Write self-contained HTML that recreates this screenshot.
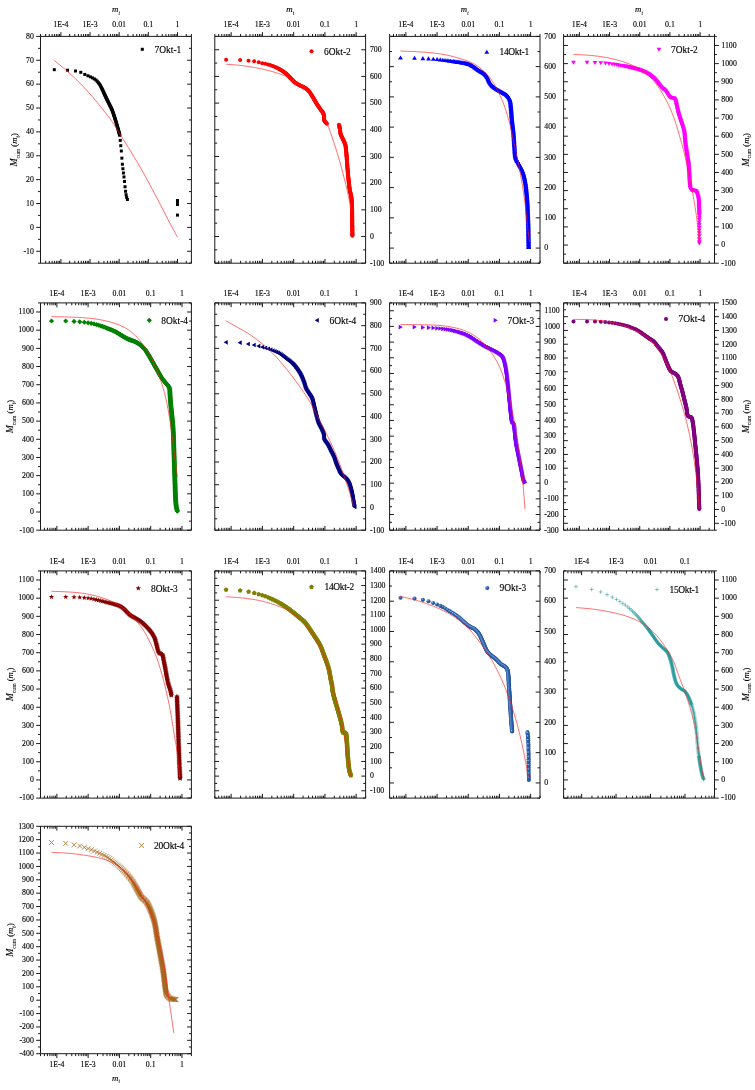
<!DOCTYPE html>
<html><head><meta charset="utf-8"><title>Cumulative mass plots</title>
<style>html,body{margin:0;padding:0;background:#fff}body{width:755px;height:1090px;overflow:hidden}svg{display:block;will-change:transform}text{font-family:"Liberation Serif",serif;fill:#000;stroke:#000;stroke-width:0.13px}.d{fill:none;stroke:none}</style>
</head><body>
<svg width="755" height="1090" viewBox="0 0 755 1090" font-size="7.8">
<rect width="755" height="1090" fill="#fff"/>
<defs>
<radialGradient id="sg" cx="0.36" cy="0.3" r="0.62"><stop offset="0" stop-color="#b4cbea"/><stop offset="0.4" stop-color="#2f63ad"/><stop offset="1" stop-color="#1f4f98"/></radialGradient>
<marker id="m1" markerUnits="userSpaceOnUse" markerWidth="8" markerHeight="8" viewBox="-4 -4 8 8" refX="0" refY="0" overflow="visible"><rect x="-1.5" y="-1.5" width="3" height="3" fill="#000"/></marker>
<marker id="m2" markerUnits="userSpaceOnUse" markerWidth="8" markerHeight="8" viewBox="-4 -4 8 8" refX="0" refY="0" overflow="visible"><circle r="2" fill="#ff0000"/></marker>
<marker id="m3" markerUnits="userSpaceOnUse" markerWidth="8" markerHeight="8" viewBox="-4 -4 8 8" refX="0" refY="0" overflow="visible"><polygon points="0,-2.3 2.4,1.8 -2.4,1.8" fill="#0000ff"/></marker>
<marker id="m4" markerUnits="userSpaceOnUse" markerWidth="8" markerHeight="8" viewBox="-4 -4 8 8" refX="0" refY="0" overflow="visible"><polygon points="0,2.2 2.35,-1.8 -2.35,-1.8" fill="#ff00ff"/></marker>
<marker id="m5" markerUnits="userSpaceOnUse" markerWidth="8" markerHeight="8" viewBox="-4 -4 8 8" refX="0" refY="0" overflow="visible"><polygon points="0,-2.6 2.6,0 0,2.6 -2.6,0" fill="#008000"/></marker>
<marker id="m6" markerUnits="userSpaceOnUse" markerWidth="8" markerHeight="8" viewBox="-4 -4 8 8" refX="0" refY="0" overflow="visible"><polygon points="-2.3,0 1.8,-2.35 1.8,2.35" fill="#000080"/></marker>
<marker id="m7" markerUnits="userSpaceOnUse" markerWidth="8" markerHeight="8" viewBox="-4 -4 8 8" refX="0" refY="0" overflow="visible"><polygon points="2.3,0 -1.8,-2.35 -1.8,2.35" fill="#8000ff"/></marker>
<marker id="m8" markerUnits="userSpaceOnUse" markerWidth="8" markerHeight="8" viewBox="-4 -4 8 8" refX="0" refY="0" overflow="visible"><circle r="2" fill="#800080"/></marker>
<marker id="m9" markerUnits="userSpaceOnUse" markerWidth="8" markerHeight="8" viewBox="-4 -4 8 8" refX="0" refY="0" overflow="visible"><polygon points="0.00,-2.80 0.68,-0.93 2.66,-0.87 1.09,0.36 1.65,2.27 0.00,1.15 -1.65,2.27 -1.09,0.36 -2.66,-0.87 -0.68,-0.93" fill="#800000"/></marker>
<marker id="m10" markerUnits="userSpaceOnUse" markerWidth="8" markerHeight="8" viewBox="-4 -4 8 8" refX="0" refY="0" overflow="visible"><polygon points="0.00,-2.50 2.38,-0.77 1.47,2.02 -1.47,2.02 -2.38,-0.77" fill="#808000"/></marker>
<marker id="m11" markerUnits="userSpaceOnUse" markerWidth="8" markerHeight="8" viewBox="-4 -4 8 8" refX="0" refY="0" overflow="visible"><circle r="2.05" fill="url(#sg)"/></marker>
<marker id="m12" markerUnits="userSpaceOnUse" markerWidth="8" markerHeight="8" viewBox="-4 -4 8 8" refX="0" refY="0" overflow="visible"><path d="M-1.95 0H1.95M0 -1.95V1.95" stroke="#2a9c9c" stroke-width="0.55" fill="none"/></marker>
<marker id="m13" markerUnits="userSpaceOnUse" markerWidth="8" markerHeight="8" viewBox="-4 -4 8 8" refX="0" refY="0" overflow="visible"><path d="M-2.4 -2.4L2.4 2.4M-2.4 2.4L2.4 -2.4" stroke="#a5641a" stroke-width="0.75" fill="none"/></marker>
</defs>
<g>
<polyline class="d" points="84.77,74.44 87.85,75.75 90.41,76.88 92.57,77.94 94.43,78.96 95.96,80.06 97.18,81.23 98.18,82.41 99.04,83.55 99.77,84.63 100.4,85.68 100.94,86.68 101.43,87.63 101.88,88.53 102.3,89.39 102.68,90.2 103.03,90.98 103.36,91.73 103.68,92.44 103.98,93.12 104.27,93.77 104.56,94.41 104.86,95.05 105.16,95.68 105.45,96.31 105.75,96.95 106.05,97.58 106.36,98.21 106.66,98.84 106.96,99.47 107.27,100.1 107.58,100.73 107.89,101.36 108.2,101.98 108.52,102.61 108.84,103.23 109.15,103.86 109.47,104.48 109.78,105.11 110.08,105.74 110.39,106.36 110.7,106.99 111.01,107.62 111.31,108.25 111.61,108.89 111.88,109.53 112.15,110.18 112.4,110.83 112.64,111.49 112.87,112.15 113.1,112.81 113.32,113.47 113.55,114.14 113.77,114.8 113.99,115.47 114.2,116.13 114.42,116.8 114.63,117.47 114.85,118.13 115.06,118.8 115.27,119.47 115.48,120.14 115.68,120.8 115.89,121.47 116.09,122.14 116.3,122.81 116.5,123.48 116.7,124.15 116.9,124.82 117.1,125.5 117.3,126.17 117.49,126.84 117.68,127.51 117.87,128.19 118.06,128.86 118.24,129.54 118.43,130.21 118.61,130.89 118.79,131.56 118.98,132.24 119.16,132.92 119.34,133.59 119.52,134.27 119.69,134.95 119.74,135.1" marker-start="url(#m1)" marker-mid="url(#m1)" marker-end="url(#m1)"/>
<polyline class="d" points="54.3,69.67 67.55,70.2 75.5,70.99 80.79,72.32 120.26,140.4 120.79,145.7 121.32,150.99 121.85,158.15 122.38,164.24 122.91,168.74 123.44,172.98 123.97,176.95 124.5,181.46 125.03,186.75 125.56,191.26 126.09,194.7 126.62,197.35 127.42,199.47 177.48,200.53 177.48,202.65 177.48,204.5 177.48,215.1" marker-start="url(#m1)" marker-mid="url(#m1)" marker-end="url(#m1)"/>
<polyline points="54.3,60.4 55.76,61.61 57.79,63.28 60.18,65.26 62.74,67.4 65.27,69.54 67.55,71.52 69.63,73.37 71.67,75.22 73.68,77.07 75.64,78.92 77.58,80.78 79.47,82.65 81.31,84.52 83.1,86.38 84.85,88.25 86.58,90.13 88.32,92.06 90.07,94.04 91.83,96.07 93.6,98.14 95.36,100.25 97.13,102.39 98.9,104.56 100.66,106.75 102.44,108.98 104.24,111.24 106.04,113.53 107.82,115.84 109.57,118.18 111.26,120.53 112.85,122.86 114.35,125.16 115.81,127.48 117.29,129.88 118.85,132.4 120.53,135.1 122.35,137.97 124.26,140.99 126.24,144.12 128.28,147.37 130.36,150.73 132.45,154.17 134.58,157.73 136.77,161.41 138.99,165.2 141.23,169.07 143.47,172.99 145.7,176.95 147.93,181.03 150.21,185.25 152.48,189.54 154.72,193.79 156.89,197.92 158.94,201.85 160.89,205.61 162.77,209.28 164.57,212.83 166.3,216.24 167.95,219.47 169.54,222.52 171.11,225.47 172.68,228.36 174.17,231.09 175.52,233.53 176.65,235.57 177.48,237.09" fill="none" stroke="#ff2020" stroke-width="0.65"/>
<polyline class="d" points="142.3,49.3 142.3,49.3" marker-start="url(#m1)"/>
<text x="154.5" y="52.7" font-size="9.45">7Okt-1</text>
<text x="33.8" y="253.56" text-anchor="end">-10</text>
<text x="33.8" y="229.69" text-anchor="end">0</text>
<text x="33.8" y="205.82" text-anchor="end">10</text>
<text x="33.8" y="181.94" text-anchor="end">20</text>
<text x="33.8" y="158.07" text-anchor="end">30</text>
<text x="33.8" y="134.19" text-anchor="end">40</text>
<text x="33.8" y="110.32" text-anchor="end">50</text>
<text x="33.8" y="86.45" text-anchor="end">60</text>
<text x="33.8" y="62.57" text-anchor="end">70</text>
<text x="33.8" y="38.7" text-anchor="end">80</text>
<path d="M40.5 36.4H191.4V263.2H40.5ZM40.5 36.4v-2.4M40.5 263.2v-2.4M45.63 36.4v-2.4M45.63 263.2v-2.4M49.28 36.4v-2.4M49.28 263.2v-2.4M52.1 36.4v-2.4M52.1 263.2v-2.4M54.41 36.4v-2.4M54.41 263.2v-2.4M56.36 36.4v-2.4M56.36 263.2v-2.4M58.05 36.4v-2.4M58.05 263.2v-2.4M59.54 36.4v-2.4M59.54 263.2v-2.4M60.88 36.4v-4.3M60.88 263.2v-4.3M69.65 36.4v-2.4M69.65 263.2v-2.4M74.79 36.4v-2.4M74.79 263.2v-2.4M78.43 36.4v-2.4M78.43 263.2v-2.4M81.25 36.4v-2.4M81.25 263.2v-2.4M83.56 36.4v-2.4M83.56 263.2v-2.4M85.51 36.4v-2.4M85.51 263.2v-2.4M87.21 36.4v-2.4M87.21 263.2v-2.4M88.7 36.4v-2.4M88.7 263.2v-2.4M90.03 36.4v-4.3M90.03 263.2v-4.3M98.81 36.4v-2.4M98.81 263.2v-2.4M103.94 36.4v-2.4M103.94 263.2v-2.4M107.58 36.4v-2.4M107.58 263.2v-2.4M110.41 36.4v-2.4M110.41 263.2v-2.4M112.72 36.4v-2.4M112.72 263.2v-2.4M114.67 36.4v-2.4M114.67 263.2v-2.4M116.36 36.4v-2.4M116.36 263.2v-2.4M117.85 36.4v-2.4M117.85 263.2v-2.4M119.18 36.4v-4.3M119.18 263.2v-4.3M127.96 36.4v-2.4M127.96 263.2v-2.4M133.09 36.4v-2.4M133.09 263.2v-2.4M136.74 36.4v-2.4M136.74 263.2v-2.4M139.56 36.4v-2.4M139.56 263.2v-2.4M141.87 36.4v-2.4M141.87 263.2v-2.4M143.82 36.4v-2.4M143.82 263.2v-2.4M145.51 36.4v-2.4M145.51 263.2v-2.4M147 36.4v-2.4M147 263.2v-2.4M148.34 36.4v-4.3M148.34 263.2v-4.3M157.11 36.4v-2.4M157.11 263.2v-2.4M162.25 36.4v-2.4M162.25 263.2v-2.4M165.89 36.4v-2.4M165.89 263.2v-2.4M168.71 36.4v-2.4M168.71 263.2v-2.4M171.02 36.4v-2.4M171.02 263.2v-2.4M172.97 36.4v-2.4M172.97 263.2v-2.4M174.67 36.4v-2.4M174.67 263.2v-2.4M176.16 36.4v-2.4M176.16 263.2v-2.4M177.49 36.4v-4.3M177.49 263.2v-4.3M186.27 36.4v-2.4M186.27 263.2v-2.4M191.4 36.4v-2.4M191.4 263.2v-2.4M40.5 263.2h-2.4M191.4 263.2h-2.4M40.5 251.26h-4.3M191.4 251.26h-4.3M40.5 239.33h-2.4M191.4 239.33h-2.4M40.5 227.39h-4.3M191.4 227.39h-4.3M40.5 215.45h-2.4M191.4 215.45h-2.4M40.5 203.52h-4.3M191.4 203.52h-4.3M40.5 191.58h-2.4M191.4 191.58h-2.4M40.5 179.64h-4.3M191.4 179.64h-4.3M40.5 167.71h-2.4M191.4 167.71h-2.4M40.5 155.77h-4.3M191.4 155.77h-4.3M40.5 143.83h-2.4M191.4 143.83h-2.4M40.5 131.89h-4.3M191.4 131.89h-4.3M40.5 119.96h-2.4M191.4 119.96h-2.4M40.5 108.02h-4.3M191.4 108.02h-4.3M40.5 96.08h-2.4M191.4 96.08h-2.4M40.5 84.15h-4.3M191.4 84.15h-4.3M40.5 72.21h-2.4M191.4 72.21h-2.4M40.5 60.27h-4.3M191.4 60.27h-4.3M40.5 48.34h-2.4M191.4 48.34h-2.4M40.5 36.4h-4.3M191.4 36.4h-4.3" fill="none" stroke="#1a1a1a" stroke-width="1"/>
<text x="60.88" y="26.6" text-anchor="middle">1E-4</text>
<text x="90.03" y="26.6" text-anchor="middle">1E-3</text>
<text x="119.18" y="26.6" text-anchor="middle">0.01</text>
<text x="148.34" y="26.6" text-anchor="middle">0.1</text>
<text x="177.49" y="26.6" text-anchor="middle">1</text>
<text x="115.95" y="11.9" font-size="8.8" font-style="italic" text-anchor="middle">m<tspan font-size="5.4" dy="2.6" style="stroke-width:0.06px">t</tspan></text>
<text transform="translate(16.8 149.8) rotate(-90)" font-size="8.7" text-anchor="middle"><tspan font-style="italic" font-size="9.8">M</tspan><tspan font-size="5.6" dy="2.8" style="stroke-width:0.06px">cum</tspan><tspan dy="-2.8"> (</tspan><tspan font-style="italic">m</tspan><tspan font-size="5.6" dy="2.8" font-style="italic" style="stroke-width:0.06px">t</tspan><tspan dy="-2.8">)</tspan></text>
</g>
<g>
<polyline class="d" points="267.94,64.43 270.04,65.09 271.89,65.7 273.52,66.29 274.97,66.91 276.27,67.52 277.46,68.11 278.54,68.68 279.55,69.22 280.48,69.74 281.36,70.24 282.17,70.72 282.93,71.2 283.63,71.67 284.28,72.15 284.89,72.63 285.45,73.1 285.98,73.57 286.49,74.05 287,74.53 287.5,75.02 288,75.51 288.5,76 288.99,76.5 289.46,77.01 289.93,77.53 290.41,78.05 290.88,78.57 291.36,79.07 291.86,79.57 292.36,80.05 292.87,80.54 293.38,81.02 293.9,81.49 294.43,81.94 294.97,82.39 295.52,82.82 296.09,83.22 296.68,83.61 297.27,83.98 297.87,84.33 298.48,84.68 299.1,85.01 299.72,85.34 300.35,85.64 300.99,85.92 301.64,86.18 302.29,86.44 302.93,86.72 303.55,87.03 304.16,87.38 304.75,87.76 305.34,88.14 305.91,88.54 306.47,88.96 307.02,89.4 307.55,89.86 308.06,90.34 308.54,90.85 308.99,91.38 309.42,91.93 309.84,92.49 310.24,93.07 310.63,93.65 311.01,94.23 311.4,94.82 311.78,95.41 312.14,96 312.5,96.6 312.86,97.21 313.21,97.81 313.56,98.42 313.91,99.02 314.27,99.62 314.63,100.23 314.99,100.83 315.34,101.43 315.7,102.03 316.05,102.64 316.41,103.24 316.77,103.84 317.14,104.43 317.51,105.03 317.89,105.61 318.28,106.2 318.67,106.78 319.06,107.36 319.46,107.93 319.86,108.51 320.26,109.08 320.67,109.65 321.09,110.21 321.54,110.75 321.99,111.29 322.43,111.83 322.83,112.4 323.17,113.01 323.42,113.66 323.61,114.34 323.75,115.03 323.86,115.72 323.96,116.41 324.04,117.1 324.06,117.8 324.08,118.5 324.11,119.2 324.19,119.9 324.36,120.57 324.67,121.2 325.07,121.78 325.51,122.32 325.98,122.83 326.47,123.34 326.9,123.81" marker-start="url(#m2)" marker-mid="url(#m2)" marker-end="url(#m2)"/>
<polyline class="d" points="339.03,124.86 339.17,125.54 339.31,126.23 339.45,126.91 339.59,127.6 339.72,128.29 339.85,128.97 339.96,129.67 340.05,130.36 340.14,131.05 340.23,131.75 340.33,132.44 340.44,133.13 340.59,133.82 340.77,134.49 341.01,135.15 341.28,135.79 341.59,136.42 341.91,137.05 342.22,137.67 342.52,138.31 342.81,138.94 343.12,139.57 343.43,140.2 343.74,140.82 344.05,141.45 344.34,142.09 344.62,142.73 344.88,143.38 345.09,144.05 345.3,144.72 345.45,145.4 345.59,146.09 345.7,146.78 345.8,147.47 345.88,148.17 345.96,148.86 346.03,149.56 346.09,150.25 346.15,150.95 346.21,151.65 346.28,152.35 346.34,153.04 346.4,153.74 346.47,154.44 346.52,155.14 346.58,155.83 346.63,156.53 346.68,157.23 346.72,157.93 346.77,158.63 346.82,159.33 346.87,160.02 346.92,160.72 346.97,161.42 347.02,162.12 347.08,162.82 347.13,163.51 347.18,164.21 347.24,164.91 347.29,165.61 347.34,166.31 347.4,167 347.45,167.7 347.51,168.4 347.57,169.1 347.63,169.79 347.68,170.49 347.75,171.19 347.81,171.89 347.87,172.58 347.93,173.28 348,173.98 348.07,174.67 348.13,175.37 348.2,176.07 348.27,176.76 348.34,177.46 348.41,178.16 348.48,178.85 348.55,179.55 348.63,180.25 348.7,180.94 348.77,181.64 348.85,182.33 348.93,183.03 349,183.73 349.08,184.42 349.16,185.12 349.24,185.81 349.32,186.51 349.4,187.2 349.49,187.9 349.58,188.59 349.67,189.28 349.78,189.98 349.89,190.67 350.03,191.35 350.18,192.04 350.36,192.71 350.56,193.39 350.75,194.06 350.94,194.73 351.09,195.42 351.22,196.1 351.33,196.79 351.42,197.49 351.49,198.19 351.55,198.88 351.61,199.58 351.66,200.28 351.7,200.98 351.74,201.68 351.78,202.38 351.81,203.07 351.85,203.77 351.88,204.47 351.9,205.17 351.93,205.87 351.96,206.57 351.98,207.27 352,207.97 352.03,208.67 352.05,209.37 352.06,210.07 352.08,210.77 352.09,211.47 352.1,212.17 352.11,212.87 352.12,213.57 352.13,214.27 352.14,214.97 352.15,215.67 352.15,216.37 352.16,217.07 352.17,217.77 352.18,218.47 352.19,219.17 352.2,219.87 352.21,220.57 352.22,221.27 352.23,221.97 352.24,222.67 352.25,223.37 352.25,224.07 352.26,224.77 352.27,225.47 352.28,226.17 352.29,226.87 352.3,227.57 352.31,228.27 352.32,228.97 352.33,229.67 352.34,230.37 352.35,231.07 352.36,231.77 352.37,232.47 352.37,233.17 352.38,233.87 352.39,234.57 352.4,235.27 352.41,235.67" marker-start="url(#m2)" marker-mid="url(#m2)" marker-end="url(#m2)"/>
<polyline class="d" points="226.13,59.63 240.13,60.04 248.5,60.67 254.14,61.3 258.74,62.34 262.3,63.18 265.22,63.81" marker-start="url(#m2)" marker-mid="url(#m2)" marker-end="url(#m2)"/>
<polyline points="226.13,64.22 227.77,64.35 230.04,64.51 232.74,64.71 235.64,64.94 238.52,65.2 241.18,65.48 243.67,65.8 246.17,66.15 248.65,66.54 251.11,66.94 253.5,67.36 255.81,67.78 258.05,68.2 260.23,68.64 262.35,69.09 264.41,69.54 266.41,70.02 268.36,70.5 270.25,70.99 272.08,71.5 273.85,72.03 275.56,72.56 277.22,73.09 278.81,73.63 280.33,74.15 281.76,74.66 283.13,75.16 284.47,75.7 285.81,76.3 287.18,76.98 288.57,77.76 289.96,78.62 291.36,79.54 292.75,80.49 294.14,81.46 295.54,82.41 296.93,83.32 298.33,84.2 299.72,85.09 301.11,86.04 302.51,87.08 303.9,88.27 305.3,89.59 306.69,91.03 308.08,92.55 309.48,94.18 310.87,95.89 312.26,97.68 313.67,99.55 315.09,101.51 316.51,103.56 317.92,105.69 319.29,107.91 320.63,110.22 321.96,112.74 323.3,115.49 324.61,118.32 325.85,121.1 326.98,123.68 327.95,125.9 328.7,127.67 329.26,129.08 329.71,130.28 330.11,131.44 330.55,132.71 331.08,134.26 331.72,136.1 332.4,138.1 333.11,140.21 333.83,142.4 334.55,144.61 335.26,146.81 335.96,148.99 336.66,151.18 337.35,153.41 338.05,155.68 338.75,158 339.44,160.4 340.15,162.93 340.88,165.59 341.6,168.3 342.31,171.01 342.99,173.62 343.63,176.08 344.21,178.35 344.76,180.49 345.29,182.55 345.79,184.56 346.28,186.57 346.76,188.62 347.25,190.74 347.72,192.88 348.19,195.03 348.64,197.14 349.07,199.2 349.48,201.17 349.89,203.15 350.3,205.19 350.7,207.18 351.05,208.99 351.35,210.51 351.57,211.62" fill="none" stroke="#ff2020" stroke-width="0.65"/>
<polyline class="d" points="311.5,51.3 311.5,51.3" marker-start="url(#m2)"/>
<text x="324" y="54.7" font-size="9.45">6Okt-2</text>
<text x="369.9" y="265.5">-100</text>
<text x="369.9" y="238.82">0</text>
<text x="369.9" y="212.14">100</text>
<text x="369.9" y="185.45">200</text>
<text x="369.9" y="158.77">300</text>
<text x="369.9" y="132.09">400</text>
<text x="369.9" y="105.41">500</text>
<text x="369.9" y="78.72">600</text>
<text x="369.9" y="52.04">700</text>
<path d="M214.8 36.4H365.6V263.2H214.8ZM214.8 36.4v-2.4M214.8 263.2v-2.4M218.71 36.4v-2.4M218.71 263.2v-2.4M221.74 36.4v-2.4M221.74 263.2v-2.4M224.21 36.4v-2.4M224.21 263.2v-2.4M226.3 36.4v-2.4M226.3 263.2v-2.4M228.12 36.4v-2.4M228.12 263.2v-2.4M229.72 36.4v-2.4M229.72 263.2v-2.4M231.15 36.4v-4.3M231.15 263.2v-4.3M240.56 36.4v-2.4M240.56 263.2v-2.4M246.06 36.4v-2.4M246.06 263.2v-2.4M249.97 36.4v-2.4M249.97 263.2v-2.4M253 36.4v-2.4M253 263.2v-2.4M255.47 36.4v-2.4M255.47 263.2v-2.4M257.56 36.4v-2.4M257.56 263.2v-2.4M259.38 36.4v-2.4M259.38 263.2v-2.4M260.98 36.4v-2.4M260.98 263.2v-2.4M262.41 36.4v-4.3M262.41 263.2v-4.3M271.82 36.4v-2.4M271.82 263.2v-2.4M277.32 36.4v-2.4M277.32 263.2v-2.4M281.23 36.4v-2.4M281.23 263.2v-2.4M284.26 36.4v-2.4M284.26 263.2v-2.4M286.73 36.4v-2.4M286.73 263.2v-2.4M288.83 36.4v-2.4M288.83 263.2v-2.4M290.64 36.4v-2.4M290.64 263.2v-2.4M292.24 36.4v-2.4M292.24 263.2v-2.4M293.67 36.4v-4.3M293.67 263.2v-4.3M303.08 36.4v-2.4M303.08 263.2v-2.4M308.58 36.4v-2.4M308.58 263.2v-2.4M312.49 36.4v-2.4M312.49 263.2v-2.4M315.52 36.4v-2.4M315.52 263.2v-2.4M317.99 36.4v-2.4M317.99 263.2v-2.4M320.09 36.4v-2.4M320.09 263.2v-2.4M321.9 36.4v-2.4M321.9 263.2v-2.4M323.5 36.4v-2.4M323.5 263.2v-2.4M324.93 36.4v-4.3M324.93 263.2v-4.3M334.34 36.4v-2.4M334.34 263.2v-2.4M339.84 36.4v-2.4M339.84 263.2v-2.4M343.75 36.4v-2.4M343.75 263.2v-2.4M346.78 36.4v-2.4M346.78 263.2v-2.4M349.25 36.4v-2.4M349.25 263.2v-2.4M351.35 36.4v-2.4M351.35 263.2v-2.4M353.16 36.4v-2.4M353.16 263.2v-2.4M354.76 36.4v-2.4M354.76 263.2v-2.4M356.19 36.4v-4.3M356.19 263.2v-4.3M365.6 36.4v-2.4M365.6 263.2v-2.4M214.8 263.2h4.3M365.6 263.2h-4.3M214.8 249.86h2.4M365.6 249.86h-2.4M214.8 236.52h4.3M365.6 236.52h-4.3M214.8 223.18h2.4M365.6 223.18h-2.4M214.8 209.84h4.3M365.6 209.84h-4.3M214.8 196.49h2.4M365.6 196.49h-2.4M214.8 183.15h4.3M365.6 183.15h-4.3M214.8 169.81h2.4M365.6 169.81h-2.4M214.8 156.47h4.3M365.6 156.47h-4.3M214.8 143.13h2.4M365.6 143.13h-2.4M214.8 129.79h4.3M365.6 129.79h-4.3M214.8 116.45h2.4M365.6 116.45h-2.4M214.8 103.11h4.3M365.6 103.11h-4.3M214.8 89.76h2.4M365.6 89.76h-2.4M214.8 76.42h4.3M365.6 76.42h-4.3M214.8 63.08h2.4M365.6 63.08h-2.4M214.8 49.74h4.3M365.6 49.74h-4.3M214.8 36.4h2.4M365.6 36.4h-2.4" fill="none" stroke="#1a1a1a" stroke-width="1"/>
<text x="231.15" y="26.6" text-anchor="middle">1E-4</text>
<text x="262.41" y="26.6" text-anchor="middle">1E-3</text>
<text x="293.67" y="26.6" text-anchor="middle">0.01</text>
<text x="324.93" y="26.6" text-anchor="middle">0.1</text>
<text x="356.19" y="26.6" text-anchor="middle">1</text>
<text x="290.2" y="11.9" font-size="8.8" font-style="italic" text-anchor="middle">m<tspan font-size="5.4" dy="2.6" style="stroke-width:0.06px">t</tspan></text>
</g>
<g>
<polyline class="d" points="440.22,59.63 442.82,59.97 445.08,60.27 447.07,60.53 448.85,60.77 450.46,60.99 451.94,61.19 453.29,61.37 454.55,61.54 455.72,61.7 456.82,61.85 457.84,62 458.81,62.14 459.73,62.29 460.6,62.43 461.42,62.56 462.21,62.69 462.96,62.82 463.68,62.94 464.37,63.06 465.06,63.19 465.74,63.33 466.43,63.48 467.11,63.64 467.78,63.82 468.46,64.02 469.11,64.26 469.76,64.51 470.4,64.8 471.02,65.12 471.63,65.47 472.23,65.83 472.83,66.2 473.42,66.57 474.01,66.95 474.59,67.34 475.16,67.75 475.72,68.16 476.28,68.58 476.84,69.01 477.4,69.43 477.96,69.84 478.54,70.24 479.12,70.63 479.71,71 480.32,71.34 480.94,71.68 481.55,72.01 482.16,72.35 482.77,72.71 483.36,73.07 483.93,73.49 484.47,73.93 484.98,74.41 485.46,74.92 485.91,75.45 486.34,76.01 486.74,76.58 487.12,77.17 487.47,77.77 487.79,78.4 488.06,79.04 488.32,79.69 488.57,80.35 488.85,80.99 489.16,81.62 489.5,82.23 489.86,82.83 490.23,83.42 490.63,84 491.05,84.56 491.49,85.1 491.95,85.63 492.44,86.13 492.96,86.59 493.5,87.04 494.05,87.47 494.62,87.88 495.19,88.28 495.77,88.68 496.36,89.06 496.94,89.44 497.53,89.82 498.13,90.19 498.73,90.55 499.34,90.89 499.95,91.23 500.57,91.56 501.19,91.89 501.8,92.22 502.41,92.56 503.02,92.91 503.63,93.26 504.24,93.6 504.84,93.95 505.45,94.31 506.03,94.69 506.59,95.11 507.11,95.58 507.6,96.08 508.07,96.6 508.5,97.15 508.89,97.73 509.24,98.34 509.54,98.97 509.79,99.62 509.99,100.29 510.16,100.97 510.29,101.66 510.4,102.35 510.49,103.04 510.56,103.74 510.63,104.44 510.7,105.13 510.77,105.83 510.83,106.53 510.9,107.22 510.97,107.92 511.04,108.62 511.1,109.31 511.15,110.01 511.21,110.71 511.26,111.41 511.32,112.11 511.37,112.8 511.42,113.5 511.48,114.2 511.53,114.9 511.58,115.6 511.64,116.29 511.7,116.99 511.76,117.69 511.82,118.39 511.88,119.08 511.95,119.78 512.03,120.47 512.1,121.17 512.18,121.87 512.27,122.56 512.35,123.26 512.44,123.95 512.52,124.65 512.61,125.34 512.7,126.03 512.79,126.73 512.87,127.42 512.96,128.12 513.04,128.81 513.12,129.51 513.2,130.2 513.27,130.9 513.34,131.6 513.41,132.29 513.47,132.99 513.53,133.69 513.58,134.39 513.64,135.08 513.69,135.78 513.74,136.48 513.79,137.18 513.83,137.88 513.88,138.58 513.92,139.27 513.97,139.97 514.02,140.67 514.06,141.37 514.11,142.07 514.15,142.77 514.2,143.47 514.25,144.16 514.3,144.86 514.35,145.56 514.4,146.26 514.46,146.96 514.51,147.65 514.56,148.35 514.61,149.05 514.65,149.75 514.7,150.45 514.74,151.15 514.79,151.84 514.84,152.54 514.9,153.24 514.96,153.94 515.04,154.63 515.13,155.33 515.24,156.02 515.38,156.7 515.53,157.39 515.73,158.06 515.96,158.72 516.24,159.36 516.56,159.98 516.9,160.59 517.27,161.19 517.63,161.79 518,162.38 518.33,163 518.67,163.61 518.99,164.23 519.32,164.85 519.66,165.46 520,166.08 520.33,166.69 520.67,167.3 521,167.92 521.32,168.54 521.64,169.17 521.93,169.8 522.23,170.44 522.49,171.09 522.74,171.74 522.97,172.4 523.19,173.07 523.4,173.73 523.59,174.41 523.77,175.08 523.94,175.76 524.11,176.44 524.27,177.12 524.42,177.81 524.57,178.49 524.71,179.18 524.85,179.86 524.98,180.55 525.11,181.24 525.24,181.93 525.36,182.62 525.47,183.31 525.59,184 525.68,184.69 525.78,185.38 525.87,186.08 525.95,186.77 526.03,187.47 526.11,188.16 526.18,188.86 526.25,189.56 526.32,190.25 526.39,190.95 526.46,191.65 526.53,192.34 526.59,193.04 526.66,193.74 526.73,194.43 526.79,195.13 526.85,195.83 526.92,196.52 526.97,197.22 527.03,197.92 527.09,198.62 527.14,199.32 527.19,200.01 527.24,200.71 527.29,201.41 527.33,202.11 527.38,202.81 527.42,203.51 527.46,204.21 527.5,204.9 527.53,205.6 527.56,206.3 527.59,207 527.61,207.7 527.64,208.4 527.66,209.1 527.69,209.8 527.71,210.5 527.73,211.2 527.76,211.9 527.78,212.6 527.81,213.3 527.84,214 527.87,214.7 527.89,215.4 527.92,216.1 527.95,216.8 527.98,217.49 528.02,218.19 528.05,218.89 528.07,219.59 528.1,220.29 528.13,220.99 528.16,221.69 528.18,222.39 528.21,223.09 528.23,223.79 528.25,224.49 528.27,225.19 528.29,225.89 528.31,226.59 528.32,227.29 528.34,227.99 528.35,228.69 528.36,229.39 528.37,230.09 528.39,230.79 528.4,231.49 528.41,232.19 528.42,232.89 528.43,233.59 528.45,234.29 528.46,234.99 528.47,235.69 528.48,236.39 528.5,237.09 528.51,237.79 528.52,238.49 528.53,239.19 528.54,239.89 528.55,240.59 528.57,241.29 528.58,241.99 528.59,242.69 528.6,243.39 528.61,244.09 528.62,244.79 528.63,245.49 528.65,246.19 528.66,246.89 528.66,247.16" marker-start="url(#m3)" marker-mid="url(#m3)" marker-end="url(#m3)"/>
<polyline class="d" points="400.5,57.74 414.51,57.95 422.87,58.37 428.51,58.58 433.32,59 437.09,59.21" marker-start="url(#m3)" marker-mid="url(#m3)" marker-end="url(#m3)"/>
<polyline points="400.5,51.05 402.22,51.12 404.6,51.2 407.42,51.3 410.45,51.42 413.45,51.54 416.18,51.68 418.68,51.82 421.14,51.96 423.56,52.11 425.98,52.28 428.39,52.49 430.81,52.73 433.25,52.99 435.69,53.28 438.13,53.6 440.57,53.96 443.01,54.36 445.45,54.82 447.91,55.34 450.41,55.92 452.9,56.54 455.36,57.2 457.77,57.88 460.09,58.58 462.32,59.27 464.5,59.95 466.62,60.66 468.68,61.41 470.68,62.25 472.63,63.18 474.52,64.22 476.35,65.34 478.12,66.54 479.83,67.8 481.49,69.13 483.08,70.5 484.62,71.93 486.1,73.42 487.53,74.98 488.89,76.58 490.2,78.23 491.45,79.91 492.61,81.59 493.69,83.3 494.71,85.04 495.71,86.85 496.7,88.75 497.72,90.78 498.78,92.92 499.85,95.18 500.92,97.52 501.98,99.95 503.01,102.44 503.99,104.99 504.93,107.61 505.85,110.31 506.73,113.07 507.59,115.9 508.42,118.78 509.22,121.72 509.97,124.74 510.69,127.84 511.37,131 512.04,134.19 512.71,137.38 513.4,140.54 514.1,143.67 514.82,146.81 515.53,149.95 516.23,153.08 516.92,156.22 517.58,159.35 518.22,162.51 518.84,165.7 519.45,168.89 520.04,172.05 520.6,175.16 521.13,178.17 521.64,181.08 522.13,183.9 522.59,186.66 523.02,189.4 523.45,192.13 523.85,194.9 524.24,197.66 524.6,200.39 524.94,203.13 525.27,205.89 525.6,208.71 525.94,211.62 526.3,214.72 526.66,218.01 527.03,221.36 527.38,224.63 527.72,227.7 528.03,230.44 528.33,232.91 528.62,235.24 528.9,237.36 529.14,239.23 529.35,240.77 529.5,241.94" fill="none" stroke="#ff2020" stroke-width="0.65"/>
<polyline class="d" points="486.8,52 486.8,52" marker-start="url(#m3)"/>
<text x="499.5" y="55.4" font-size="9.45" textLength="29.7">14Okt-1</text>
<text x="544.3" y="250.38">0</text>
<text x="544.3" y="220.14">100</text>
<text x="544.3" y="189.9">200</text>
<text x="544.3" y="159.66">300</text>
<text x="544.3" y="129.42">400</text>
<text x="544.3" y="99.18">500</text>
<text x="544.3" y="68.94">600</text>
<text x="544.3" y="38.7">700</text>
<path d="M389.6 36.4H540V263.2H389.6ZM389.6 36.4v-2.4M389.6 263.2v-2.4M393.5 36.4v-2.4M393.5 263.2v-2.4M396.52 36.4v-2.4M396.52 263.2v-2.4M398.99 36.4v-2.4M398.99 263.2v-2.4M401.07 36.4v-2.4M401.07 263.2v-2.4M402.88 36.4v-2.4M402.88 263.2v-2.4M404.48 36.4v-2.4M404.48 263.2v-2.4M405.9 36.4v-4.3M405.9 263.2v-4.3M415.29 36.4v-2.4M415.29 263.2v-2.4M420.78 36.4v-2.4M420.78 263.2v-2.4M424.67 36.4v-2.4M424.67 263.2v-2.4M427.69 36.4v-2.4M427.69 263.2v-2.4M430.16 36.4v-2.4M430.16 263.2v-2.4M432.25 36.4v-2.4M432.25 263.2v-2.4M434.06 36.4v-2.4M434.06 263.2v-2.4M435.65 36.4v-2.4M435.65 263.2v-2.4M437.08 36.4v-4.3M437.08 263.2v-4.3M446.47 36.4v-2.4M446.47 263.2v-2.4M451.96 36.4v-2.4M451.96 263.2v-2.4M455.85 36.4v-2.4M455.85 263.2v-2.4M458.87 36.4v-2.4M458.87 263.2v-2.4M461.34 36.4v-2.4M461.34 263.2v-2.4M463.43 36.4v-2.4M463.43 263.2v-2.4M465.24 36.4v-2.4M465.24 263.2v-2.4M466.83 36.4v-2.4M466.83 263.2v-2.4M468.26 36.4v-4.3M468.26 263.2v-4.3M477.64 36.4v-2.4M477.64 263.2v-2.4M483.13 36.4v-2.4M483.13 263.2v-2.4M487.03 36.4v-2.4M487.03 263.2v-2.4M490.05 36.4v-2.4M490.05 263.2v-2.4M492.52 36.4v-2.4M492.52 263.2v-2.4M494.61 36.4v-2.4M494.61 263.2v-2.4M496.41 36.4v-2.4M496.41 263.2v-2.4M498.01 36.4v-2.4M498.01 263.2v-2.4M499.44 36.4v-4.3M499.44 263.2v-4.3M508.82 36.4v-2.4M508.82 263.2v-2.4M514.31 36.4v-2.4M514.31 263.2v-2.4M518.21 36.4v-2.4M518.21 263.2v-2.4M521.23 36.4v-2.4M521.23 263.2v-2.4M523.7 36.4v-2.4M523.7 263.2v-2.4M525.78 36.4v-2.4M525.78 263.2v-2.4M527.59 36.4v-2.4M527.59 263.2v-2.4M529.19 36.4v-2.4M529.19 263.2v-2.4M530.61 36.4v-4.3M530.61 263.2v-4.3M540 36.4v-2.4M540 263.2v-2.4M389.6 263.2h2.4M540 263.2h-2.4M389.6 248.08h4.3M540 248.08h-4.3M389.6 232.96h2.4M540 232.96h-2.4M389.6 217.84h4.3M540 217.84h-4.3M389.6 202.72h2.4M540 202.72h-2.4M389.6 187.6h4.3M540 187.6h-4.3M389.6 172.48h2.4M540 172.48h-2.4M389.6 157.36h4.3M540 157.36h-4.3M389.6 142.24h2.4M540 142.24h-2.4M389.6 127.12h4.3M540 127.12h-4.3M389.6 112h2.4M540 112h-2.4M389.6 96.88h4.3M540 96.88h-4.3M389.6 81.76h2.4M540 81.76h-2.4M389.6 66.64h4.3M540 66.64h-4.3M389.6 51.52h2.4M540 51.52h-2.4M389.6 36.4h4.3M540 36.4h-4.3" fill="none" stroke="#1a1a1a" stroke-width="1"/>
<text x="405.9" y="26.6" text-anchor="middle">1E-4</text>
<text x="437.08" y="26.6" text-anchor="middle">1E-3</text>
<text x="468.26" y="26.6" text-anchor="middle">0.01</text>
<text x="499.44" y="26.6" text-anchor="middle">0.1</text>
<text x="530.61" y="26.6" text-anchor="middle">1</text>
<text x="464.8" y="11.9" font-size="8.8" font-style="italic" text-anchor="middle">m<tspan font-size="5.4" dy="2.6" style="stroke-width:0.06px">t</tspan></text>
</g>
<g>
<polyline class="d" points="612.13,64.22 614.57,64.59 616.69,64.9 618.55,65.19 620.21,65.46 621.71,65.72 623.08,65.96 624.33,66.2 625.5,66.41 626.58,66.62 627.59,66.82 628.53,67.01 629.43,67.2 630.27,67.38 631.06,67.56 631.82,67.74 632.54,67.91 633.23,68.08 633.91,68.26 634.59,68.43 635.26,68.61 635.94,68.79 636.61,68.98 637.29,69.17 637.96,69.37 638.63,69.57 639.3,69.78 639.96,69.99 640.62,70.22 641.28,70.46 641.94,70.71 642.59,70.97 643.23,71.25 643.87,71.54 644.49,71.85 645.12,72.17 645.73,72.5 646.34,72.85 646.95,73.2 647.55,73.56 648.14,73.92 648.74,74.29 649.32,74.67 649.9,75.07 650.48,75.47 651.04,75.88 651.6,76.31 652.14,76.75 652.67,77.2 653.19,77.67 653.7,78.15 654.19,78.66 654.67,79.17 655.13,79.69 655.59,80.22 656.04,80.76 656.49,81.29 656.94,81.83 657.39,82.37 657.83,82.91 658.26,83.46 658.68,84.02 659.1,84.58 659.53,85.13 659.96,85.69 660.4,86.23 660.86,86.76 661.32,87.28 661.82,87.77 662.34,88.24 662.87,88.7 663.41,89.14 663.95,89.59 664.49,90.04 665.01,90.51 665.49,91.01 665.96,91.53 666.37,92.1 666.75,92.69 667.11,93.29 667.45,93.9 667.79,94.51 668.14,95.12 668.52,95.71 668.92,96.28 669.39,96.8 669.93,97.23 670.54,97.56 671.22,97.75 671.91,97.88 672.6,98 673.28,98.14 673.93,98.4 674.49,98.81 674.95,99.32 675.29,99.94 675.54,100.59 675.76,101.25 675.92,101.93 676.07,102.62 676.2,103.3 676.33,103.99 676.45,104.68 676.58,105.37 676.72,106.06 676.87,106.74 677.03,107.42 677.2,108.1 677.36,108.78 677.53,109.46 677.69,110.14 677.85,110.82 678.02,111.5 678.18,112.18 678.35,112.86 678.52,113.54 678.7,114.22 678.88,114.89 679.07,115.57 679.27,116.24 679.48,116.91 679.69,117.57 679.91,118.24 680.13,118.91 680.35,119.57 680.57,120.23 680.8,120.9 681.02,121.56 681.24,122.22 681.46,122.89 681.67,123.56 681.89,124.22 682.1,124.89 682.33,125.55 682.55,126.21 682.78,126.87 683,127.54 683.22,128.2 683.43,128.87 683.63,129.54 683.81,130.22 683.98,130.9 684.13,131.58 684.28,132.27 684.39,132.96 684.49,133.65 684.58,134.34 684.65,135.04 684.72,135.74 684.78,136.43 684.84,137.13 684.89,137.83 684.94,138.53 685,139.23 685.05,139.92 685.11,140.62 685.17,141.32 685.25,142.01 685.32,142.71 685.41,143.4 685.49,144.1 685.58,144.79 685.67,145.49 685.77,146.18 685.86,146.87 685.96,147.57 686.06,148.26 686.16,148.95 686.26,149.65 686.36,150.34 686.47,151.03 686.57,151.72 686.67,152.42 686.78,153.11 686.89,153.8 687,154.49 687.11,155.18 687.23,155.87 687.34,156.56 687.46,157.25 687.58,157.94 687.7,158.63 687.82,159.32 687.93,160.01 688.04,160.7 688.15,161.39 688.25,162.09 688.34,162.78 688.44,163.47 688.51,164.17 688.59,164.87 688.66,165.56 688.72,166.26 688.79,166.96 688.84,167.65 688.9,168.35 688.95,169.05 689,169.75 689.04,170.45 689.09,171.15 689.14,171.84 689.18,172.54 689.23,173.24 689.28,173.94 689.32,174.64 689.36,175.34 689.41,176.04 689.44,176.73 689.48,177.43 689.51,178.13 689.55,178.83 689.58,179.53 689.62,180.23 689.65,180.93 689.69,181.63 689.74,182.33 689.78,183.03 689.84,183.72 689.91,184.42 689.97,185.12 690.02,185.82 690.07,186.51 690.13,187.21 690.22,187.9 690.38,188.58 690.65,189.22 691.09,189.76 691.68,190.12 692.36,190.31 693.05,190.4 693.75,190.48 694.44,190.59 695.11,190.76 695.72,191.11 696.19,191.63 696.56,192.22 696.86,192.85 697.11,193.5 697.33,194.17 697.53,194.84 697.72,195.51 697.92,196.18 698.12,196.85 698.3,197.53 698.45,198.21 698.58,198.9 698.7,199.59 698.8,200.28 698.88,200.98 698.94,201.68 698.99,202.37 699.01,203.07 699.04,203.77 699.05,204.47 699.06,205.17 699.07,205.87 699.07,206.57 699.08,207.27 699.1,207.97 699.11,208.67 699.13,209.37 699.15,210.07 699.18,210.77 699.2,211.47 699.22,212.17 699.24,212.87 699.26,213.57 699.28,214.27 699.3,214.97 699.32,215.39" marker-start="url(#m4)" marker-mid="url(#m4)" marker-end="url(#m4)"/>
<polyline class="d" points="573.45,62.55 587.04,62.55 594.99,62.76 600.84,62.97 605.44,63.39 609,63.81 699.32,217.48 699.32,219.78 699.32,222.28 699.32,224.79 699.32,227.51 699.32,230.23 699.32,233.16 699.32,236.08 699.32,239.01 699.32,241.52 699.32,243.4" marker-start="url(#m4)" marker-mid="url(#m4)" marker-end="url(#m4)"/>
<polyline points="573.45,54.4 575.05,54.48 577.25,54.58 579.86,54.71 582.67,54.86 585.48,55.04 588.09,55.23 590.53,55.45 592.97,55.68 595.41,55.93 597.85,56.21 600.28,56.53 602.72,56.91 605.19,57.33 607.68,57.81 610.17,58.32 612.64,58.87 615.04,59.44 617.36,60.04 619.6,60.67 621.77,61.32 623.89,62 625.95,62.71 627.96,63.46 629.9,64.22 631.77,65 633.54,65.77 635.26,66.58 636.95,67.44 638.64,68.39 640.36,69.45 642.12,70.64 643.92,71.93 645.71,73.31 647.48,74.76 649.19,76.26 650.81,77.81 652.33,79.39 653.75,80.99 655.12,82.65 656.46,84.4 657.8,86.26 659.17,88.27 660.59,90.47 662.04,92.84 663.49,95.32 664.9,97.87 666.26,100.42 667.54,102.9 668.72,105.32 669.82,107.7 670.87,110.09 671.87,112.51 672.85,114.98 673.81,117.54 674.74,120.18 675.63,122.88 676.49,125.64 677.33,128.46 678.18,131.33 679.04,134.26 679.92,137.28 680.82,140.38 681.71,143.54 682.6,146.73 683.45,149.92 684.26,153.08 685.03,156.22 685.75,159.35 686.45,162.49 687.12,165.63 687.78,168.76 688.44,171.9 689.11,175.06 689.76,178.25 690.4,181.44 691.03,184.6 691.63,187.7 692.21,190.71 692.75,193.62 693.27,196.44 693.76,199.21 694.24,201.94 694.69,204.68 695.13,207.44 695.56,210.2 695.96,212.94 696.35,215.67 696.72,218.44 697.08,221.26 697.43,224.17 697.79,227.4 698.16,230.98 698.52,234.62 698.84,238.03 699.12,240.91 699.32,242.98" fill="none" stroke="#ff2020" stroke-width="0.65"/>
<polyline class="d" points="659,49.5 659,49.5" marker-start="url(#m4)"/>
<text x="671" y="52.9" font-size="9.45">7Okt-2</text>
<text x="721.3" y="265.5">-100</text>
<text x="721.3" y="247.36">0</text>
<text x="721.3" y="229.21">100</text>
<text x="721.3" y="211.07">200</text>
<text x="721.3" y="192.92">300</text>
<text x="721.3" y="174.78">400</text>
<text x="721.3" y="156.64">500</text>
<text x="721.3" y="138.49">600</text>
<text x="721.3" y="120.35">700</text>
<text x="721.3" y="102.2">800</text>
<text x="721.3" y="84.06">900</text>
<text x="721.3" y="65.92">1000</text>
<text x="721.3" y="47.77">1100</text>
<path d="M563.6 36.4H714.5V263.2H563.6ZM563.6 36.4v-2.4M563.6 263.2v-2.4M567.37 36.4v-2.4M567.37 263.2v-2.4M570.3 36.4v-2.4M570.3 263.2v-2.4M572.69 36.4v-2.4M572.69 263.2v-2.4M574.71 36.4v-2.4M574.71 263.2v-2.4M576.46 36.4v-2.4M576.46 263.2v-2.4M578 36.4v-2.4M578 263.2v-2.4M579.38 36.4v-4.3M579.38 263.2v-4.3M588.47 36.4v-2.4M588.47 263.2v-2.4M593.78 36.4v-2.4M593.78 263.2v-2.4M597.55 36.4v-2.4M597.55 263.2v-2.4M600.48 36.4v-2.4M600.48 263.2v-2.4M602.87 36.4v-2.4M602.87 263.2v-2.4M604.89 36.4v-2.4M604.89 263.2v-2.4M606.64 36.4v-2.4M606.64 263.2v-2.4M608.18 36.4v-2.4M608.18 263.2v-2.4M609.56 36.4v-4.3M609.56 263.2v-4.3M618.65 36.4v-2.4M618.65 263.2v-2.4M623.96 36.4v-2.4M623.96 263.2v-2.4M627.73 36.4v-2.4M627.73 263.2v-2.4M630.66 36.4v-2.4M630.66 263.2v-2.4M633.05 36.4v-2.4M633.05 263.2v-2.4M635.07 36.4v-2.4M635.07 263.2v-2.4M636.82 36.4v-2.4M636.82 263.2v-2.4M638.36 36.4v-2.4M638.36 263.2v-2.4M639.74 36.4v-4.3M639.74 263.2v-4.3M648.83 36.4v-2.4M648.83 263.2v-2.4M654.14 36.4v-2.4M654.14 263.2v-2.4M657.91 36.4v-2.4M657.91 263.2v-2.4M660.84 36.4v-2.4M660.84 263.2v-2.4M663.23 36.4v-2.4M663.23 263.2v-2.4M665.25 36.4v-2.4M665.25 263.2v-2.4M667 36.4v-2.4M667 263.2v-2.4M668.54 36.4v-2.4M668.54 263.2v-2.4M669.92 36.4v-4.3M669.92 263.2v-4.3M679.01 36.4v-2.4M679.01 263.2v-2.4M684.32 36.4v-2.4M684.32 263.2v-2.4M688.09 36.4v-2.4M688.09 263.2v-2.4M691.02 36.4v-2.4M691.02 263.2v-2.4M693.41 36.4v-2.4M693.41 263.2v-2.4M695.43 36.4v-2.4M695.43 263.2v-2.4M697.18 36.4v-2.4M697.18 263.2v-2.4M698.72 36.4v-2.4M698.72 263.2v-2.4M700.1 36.4v-4.3M700.1 263.2v-4.3M709.19 36.4v-2.4M709.19 263.2v-2.4M714.5 36.4v-2.4M714.5 263.2v-2.4M563.6 263.2h4.3M714.5 263.2h4.3M563.6 254.13h2.4M714.5 254.13h2.4M563.6 245.06h4.3M714.5 245.06h4.3M563.6 235.98h2.4M714.5 235.98h2.4M563.6 226.91h4.3M714.5 226.91h4.3M563.6 217.84h2.4M714.5 217.84h2.4M563.6 208.77h4.3M714.5 208.77h4.3M563.6 199.7h2.4M714.5 199.7h2.4M563.6 190.62h4.3M714.5 190.62h4.3M563.6 181.55h2.4M714.5 181.55h2.4M563.6 172.48h4.3M714.5 172.48h4.3M563.6 163.41h2.4M714.5 163.41h2.4M563.6 154.34h4.3M714.5 154.34h4.3M563.6 145.26h2.4M714.5 145.26h2.4M563.6 136.19h4.3M714.5 136.19h4.3M563.6 127.12h2.4M714.5 127.12h2.4M563.6 118.05h4.3M714.5 118.05h4.3M563.6 108.98h2.4M714.5 108.98h2.4M563.6 99.9h4.3M714.5 99.9h4.3M563.6 90.83h2.4M714.5 90.83h2.4M563.6 81.76h4.3M714.5 81.76h4.3M563.6 72.69h2.4M714.5 72.69h2.4M563.6 63.62h4.3M714.5 63.62h4.3M563.6 54.54h2.4M714.5 54.54h2.4M563.6 45.47h4.3M714.5 45.47h4.3M563.6 36.4h2.4M714.5 36.4h2.4" fill="none" stroke="#1a1a1a" stroke-width="1"/>
<text x="579.38" y="26.6" text-anchor="middle">1E-4</text>
<text x="609.56" y="26.6" text-anchor="middle">1E-3</text>
<text x="639.74" y="26.6" text-anchor="middle">0.01</text>
<text x="669.92" y="26.6" text-anchor="middle">0.1</text>
<text x="700.1" y="26.6" text-anchor="middle">1</text>
<text x="639.05" y="11.9" font-size="8.8" font-style="italic" text-anchor="middle">m<tspan font-size="5.4" dy="2.6" style="stroke-width:0.06px">t</tspan></text>
<text transform="translate(748.5 149.8) rotate(-90)" font-size="8.7" text-anchor="middle"><tspan font-style="italic" font-size="9.8">M</tspan><tspan font-size="5.6" dy="2.8" style="stroke-width:0.06px">cum</tspan><tspan dy="-2.8"> (</tspan><tspan font-style="italic">m</tspan><tspan font-size="5.6" dy="2.8" font-style="italic" style="stroke-width:0.06px">t</tspan><tspan dy="-2.8">)</tspan></text>
</g>
<g>
<polyline class="d" points="91.22,323.28 93.97,323.95 96.4,324.56 98.57,325.17 100.51,325.79 102.28,326.39 103.9,326.97 105.4,327.52 106.79,328.05 108.09,328.55 109.31,329.03 110.45,329.5 111.53,329.95 112.55,330.38 113.52,330.82 114.43,331.24 115.3,331.66 116.12,332.09 116.89,332.53 117.62,332.96 118.32,333.39 118.99,333.81 119.63,334.23 120.25,334.62 120.86,335 121.46,335.36 122.06,335.72 122.66,336.07 123.26,336.43 123.86,336.79 124.46,337.15 125.07,337.5 125.68,337.85 126.29,338.19 126.91,338.51 127.54,338.82 128.17,339.11 128.82,339.39 129.47,339.63 130.14,339.86 130.8,340.08 131.47,340.3 132.13,340.52 132.79,340.75 133.44,341 134.09,341.26 134.73,341.56 135.36,341.86 135.99,342.16 136.61,342.49 137.22,342.83 137.82,343.19 138.41,343.56 138.99,343.96 139.55,344.37 140.11,344.8 140.65,345.24 141.19,345.69 141.72,346.15 142.24,346.62 142.75,347.1 143.24,347.59 143.73,348.09 144.2,348.62 144.66,349.14 145.09,349.69 145.51,350.25 145.92,350.82 146.31,351.4 146.7,351.98 147.07,352.58 147.44,353.17 147.8,353.77 148.17,354.37 148.53,354.96 148.9,355.56 149.26,356.16 149.61,356.77 149.96,357.37 150.31,357.98 150.65,358.59 151,359.2 151.34,359.81 151.68,360.42 152.02,361.03 152.37,361.64 152.71,362.25 153.06,362.86 153.4,363.47 153.75,364.07 154.1,364.68 154.45,365.29 154.79,365.9 155.14,366.51 155.49,367.11 155.83,367.72 156.18,368.33 156.53,368.94 156.88,369.54 157.22,370.15 157.57,370.76 157.91,371.37 158.25,371.98 158.59,372.6 158.93,373.21 159.27,373.82 159.62,374.43 159.96,375.04 160.31,375.64 160.67,376.25 161.03,376.84 161.4,377.44 161.79,378.02 162.19,378.59 162.61,379.16 163.03,379.71 163.47,380.26 163.91,380.8 164.35,381.35 164.8,381.88 165.26,382.42 165.72,382.94 166.18,383.46 166.65,383.99 167.1,384.52 167.55,385.06 167.98,385.61 168.39,386.18 168.8,386.75 169.16,387.35 169.43,387.99 169.61,388.67 169.73,389.36 169.81,390.05 169.86,390.75 169.9,391.45 169.92,392.15 169.94,392.85 169.97,393.55 170,394.25 170.04,394.94 170.09,395.64 170.14,396.34 170.19,397.04 170.24,397.74 170.28,398.44 170.33,399.13 170.39,399.83 170.44,400.53 170.49,401.23 170.55,401.93 170.61,402.62 170.67,403.32 170.73,404.02 170.8,404.72 170.86,405.41 170.93,406.11 171,406.81 171.07,407.5 171.14,408.2 171.21,408.89 171.28,409.59 171.36,410.29 171.43,410.98 171.5,411.68 171.57,412.38 171.64,413.07 171.71,413.77 171.78,414.47 171.86,415.16 171.93,415.86 172,416.55 172.08,417.25 172.15,417.95 172.22,418.64 172.3,419.34 172.37,420.03 172.44,420.73 172.51,421.43 172.57,422.12 172.64,422.82 172.7,423.52 172.76,424.22 172.81,424.91 172.86,425.61 172.92,426.31 172.96,427.01 173.01,427.71 173.06,428.41 173.1,429.1 173.14,429.8 173.18,430.5 173.22,431.2 173.25,431.9 173.29,432.6 173.32,433.3 173.36,434 173.39,434.7 173.42,435.4 173.45,436.1 173.47,436.8 173.5,437.49 173.52,438.19 173.55,438.89 173.57,439.59 173.59,440.29 173.62,440.99 173.64,441.69 173.66,442.39 173.68,443.09 173.7,443.79 173.72,444.49 173.74,445.19 173.76,445.89 173.79,446.59 173.81,447.29 173.83,447.99 173.85,448.69 173.88,449.39 173.9,450.09 173.92,450.79 173.95,451.49 173.97,452.19 173.99,452.89 174.02,453.59 174.04,454.29 174.06,454.99 174.09,455.69 174.11,456.38 174.13,457.08 174.16,457.78 174.18,458.48 174.2,459.18 174.23,459.88 174.25,460.58 174.27,461.28 174.3,461.98 174.32,462.68 174.34,463.38 174.37,464.08 174.39,464.78 174.41,465.48 174.44,466.18 174.46,466.88 174.48,467.58 174.51,468.28 174.53,468.98 174.55,469.68 174.58,470.38 174.6,471.08 174.62,471.78 174.65,472.48 174.67,473.18 174.69,473.88 174.72,474.57 174.74,475.27 174.76,475.97 174.79,476.67 174.81,477.37 174.83,478.07 174.86,478.77 174.88,479.47 174.9,480.17 174.93,480.87 174.95,481.57 174.97,482.27 175,482.97 175.02,483.67 175.04,484.37 175.07,485.07 175.09,485.77 175.11,486.47 175.13,487.17 175.15,487.87 175.17,488.57 175.19,489.27 175.21,489.97 175.23,490.67 175.24,491.37 175.27,492.07 175.29,492.77 175.31,493.47 175.33,494.17 175.36,494.86 175.39,495.56 175.42,496.26 175.46,496.96 175.49,497.66 175.54,498.36 175.58,499.06 175.63,499.76 175.68,500.46 175.73,501.15 175.79,501.85 175.85,502.55 175.91,503.25 175.98,503.94 176.05,504.64 176.13,505.33 176.21,506.03 176.3,506.72 176.41,507.41 176.54,508.1 176.69,508.79 176.87,509.46 177.08,510.13 177.29,510.8 177.36,511.03" marker-start="url(#m5)" marker-mid="url(#m5)" marker-end="url(#m5)"/>
<polyline class="d" points="51.5,320.98 65.72,320.98 74.08,321.4 79.72,321.82 84.32,322.23 88.09,322.86" marker-start="url(#m5)" marker-mid="url(#m5)" marker-end="url(#m5)"/>
<polyline points="51.5,316.59 53.22,316.63 55.6,316.69 58.42,316.76 61.45,316.84 64.45,316.92 67.18,317.01 69.68,317.09 72.14,317.17 74.56,317.26 76.98,317.36 79.39,317.48 81.81,317.64 84.25,317.81 86.69,318 89.13,318.21 91.57,318.46 94.01,318.75 96.45,319.1 98.91,319.51 101.41,319.96 103.9,320.46 106.36,321 108.77,321.6 111.09,322.23 113.32,322.91 115.5,323.62 117.62,324.38 119.68,325.19 121.68,326.08 123.63,327.04 125.52,328.09 127.35,329.22 129.12,330.41 130.83,331.67 132.49,332.99 134.08,334.36 135.62,335.81 137.1,337.34 138.53,338.93 139.89,340.56 141.2,342.18 142.45,343.77 143.62,345.33 144.73,346.87 145.78,348.41 146.78,349.96 147.76,351.55 148.72,353.18 149.65,354.84 150.54,356.51 151.4,358.21 152.24,359.95 153.09,361.76 153.95,363.63 154.83,365.6 155.73,367.66 156.62,369.77 157.51,371.92 158.36,374.06 159.17,376.18 159.94,378.27 160.68,380.36 161.39,382.45 162.08,384.54 162.73,386.63 163.35,388.72 163.94,390.79 164.49,392.82 165.01,394.86 165.51,396.93 166,399.05 166.49,401.26 166.97,403.56 167.43,405.91 167.89,408.32 168.33,410.79 168.77,413.32 169.21,415.9 169.64,418.57 170.07,421.32 170.5,424.13 170.92,426.97 171.32,429.81 171.72,432.63 172.09,435.41 172.44,438.2 172.79,440.99 173.13,443.78 173.46,446.56 173.81,449.35 174.16,452.21 174.53,455.16 174.89,458.11 175.25,460.97 175.59,463.65 175.9,466.08 176.2,468.3 176.49,470.41 176.76,472.35 177.01,474.05 177.21,475.47 177.36,476.53" fill="none" stroke="#ff2020" stroke-width="0.65"/>
<polyline class="d" points="149.3,320.3 149.3,320.3" marker-start="url(#m5)"/>
<text x="161.3" y="323.7" font-size="9.45">8Okt-4</text>
<text x="33.8" y="532.5" text-anchor="end">-100</text>
<text x="33.8" y="514.32" text-anchor="end">0</text>
<text x="33.8" y="496.13" text-anchor="end">100</text>
<text x="33.8" y="477.95" text-anchor="end">200</text>
<text x="33.8" y="459.76" text-anchor="end">300</text>
<text x="33.8" y="441.58" text-anchor="end">400</text>
<text x="33.8" y="423.4" text-anchor="end">500</text>
<text x="33.8" y="405.21" text-anchor="end">600</text>
<text x="33.8" y="387.03" text-anchor="end">700</text>
<text x="33.8" y="368.84" text-anchor="end">800</text>
<text x="33.8" y="350.66" text-anchor="end">900</text>
<text x="33.8" y="332.48" text-anchor="end">1000</text>
<text x="33.8" y="314.29" text-anchor="end">1100</text>
<path d="M40.5 302.9H191.4V530.2H40.5ZM40.5 302.9v2.4M40.5 530.2v-2.4M44.41 302.9v2.4M44.41 530.2v-2.4M47.44 302.9v2.4M47.44 530.2v-2.4M49.92 302.9v2.4M49.92 530.2v-2.4M52.01 302.9v2.4M52.01 530.2v-2.4M53.83 302.9v2.4M53.83 530.2v-2.4M55.43 302.9v2.4M55.43 530.2v-2.4M56.86 302.9v4.3M56.86 530.2v-4.3M66.27 302.9v2.4M66.27 530.2v-2.4M71.78 302.9v2.4M71.78 530.2v-2.4M75.69 302.9v2.4M75.69 530.2v-2.4M78.72 302.9v2.4M78.72 530.2v-2.4M81.2 302.9v2.4M81.2 530.2v-2.4M83.29 302.9v2.4M83.29 530.2v-2.4M85.11 302.9v2.4M85.11 530.2v-2.4M86.71 302.9v2.4M86.71 530.2v-2.4M88.14 302.9v4.3M88.14 530.2v-4.3M97.55 302.9v2.4M97.55 530.2v-2.4M103.06 302.9v2.4M103.06 530.2v-2.4M106.97 302.9v2.4M106.97 530.2v-2.4M110 302.9v2.4M110 530.2v-2.4M112.48 302.9v2.4M112.48 530.2v-2.4M114.57 302.9v2.4M114.57 530.2v-2.4M116.39 302.9v2.4M116.39 530.2v-2.4M117.99 302.9v2.4M117.99 530.2v-2.4M119.42 302.9v4.3M119.42 530.2v-4.3M128.84 302.9v2.4M128.84 530.2v-2.4M134.35 302.9v2.4M134.35 530.2v-2.4M138.25 302.9v2.4M138.25 530.2v-2.4M141.28 302.9v2.4M141.28 530.2v-2.4M143.76 302.9v2.4M143.76 530.2v-2.4M145.86 302.9v2.4M145.86 530.2v-2.4M147.67 302.9v2.4M147.67 530.2v-2.4M149.27 302.9v2.4M149.27 530.2v-2.4M150.7 302.9v4.3M150.7 530.2v-4.3M160.12 302.9v2.4M160.12 530.2v-2.4M165.63 302.9v2.4M165.63 530.2v-2.4M169.54 302.9v2.4M169.54 530.2v-2.4M172.57 302.9v2.4M172.57 530.2v-2.4M175.04 302.9v2.4M175.04 530.2v-2.4M177.14 302.9v2.4M177.14 530.2v-2.4M178.95 302.9v2.4M178.95 530.2v-2.4M180.55 302.9v2.4M180.55 530.2v-2.4M181.98 302.9v4.3M181.98 530.2v-4.3M191.4 302.9v2.4M191.4 530.2v-2.4M40.5 530.2h-4.3M191.4 530.2h-4.3M40.5 521.11h-2.4M191.4 521.11h-2.4M40.5 512.02h-4.3M191.4 512.02h-4.3M40.5 502.92h-2.4M191.4 502.92h-2.4M40.5 493.83h-4.3M191.4 493.83h-4.3M40.5 484.74h-2.4M191.4 484.74h-2.4M40.5 475.65h-4.3M191.4 475.65h-4.3M40.5 466.56h-2.4M191.4 466.56h-2.4M40.5 457.46h-4.3M191.4 457.46h-4.3M40.5 448.37h-2.4M191.4 448.37h-2.4M40.5 439.28h-4.3M191.4 439.28h-4.3M40.5 430.19h-2.4M191.4 430.19h-2.4M40.5 421.1h-4.3M191.4 421.1h-4.3M40.5 412h-2.4M191.4 412h-2.4M40.5 402.91h-4.3M191.4 402.91h-4.3M40.5 393.82h-2.4M191.4 393.82h-2.4M40.5 384.73h-4.3M191.4 384.73h-4.3M40.5 375.64h-2.4M191.4 375.64h-2.4M40.5 366.54h-4.3M191.4 366.54h-4.3M40.5 357.45h-2.4M191.4 357.45h-2.4M40.5 348.36h-4.3M191.4 348.36h-4.3M40.5 339.27h-2.4M191.4 339.27h-2.4M40.5 330.18h-4.3M191.4 330.18h-4.3M40.5 321.08h-2.4M191.4 321.08h-2.4M40.5 311.99h-4.3M191.4 311.99h-4.3M40.5 302.9h-2.4M191.4 302.9h-2.4" fill="none" stroke="#1a1a1a" stroke-width="1"/>
<text x="56.86" y="295.7" text-anchor="middle">1E-4</text>
<text x="88.14" y="295.7" text-anchor="middle">1E-3</text>
<text x="119.42" y="295.7" text-anchor="middle">0.01</text>
<text x="150.7" y="295.7" text-anchor="middle">0.1</text>
<text x="181.98" y="295.7" text-anchor="middle">1</text>
<text transform="translate(13 416.55) rotate(-90)" font-size="8.7" text-anchor="middle"><tspan font-style="italic" font-size="9.8">M</tspan><tspan font-size="5.6" dy="2.8" style="stroke-width:0.06px">cum</tspan><tspan dy="-2.8"> (</tspan><tspan font-style="italic">m</tspan><tspan font-size="5.6" dy="2.8" font-style="italic" style="stroke-width:0.06px">t</tspan><tspan dy="-2.8">)</tspan></text>
</g>
<g>
<polyline class="d" points="265.43,347.95 268.19,348.86 270.62,349.71 272.79,350.54 274.74,351.3 276.52,352.04 278.11,352.81 279.54,353.62 280.82,354.47 281.97,355.33 283.03,356.16 284.03,356.95 284.98,357.7 285.89,358.39 286.77,359.05 287.6,359.68 288.39,360.28 289.14,360.86 289.86,361.43 290.54,361.99 291.19,362.53 291.8,363.08 292.38,363.61 292.92,364.15 293.43,364.68 293.91,365.2 294.38,365.72 294.83,366.26 295.28,366.8 295.72,367.35 296.15,367.9 296.57,368.46 296.99,369.02 297.4,369.58 297.8,370.15 298.21,370.73 298.6,371.31 298.98,371.89 299.35,372.49 299.72,373.08 300.07,373.69 300.41,374.3 300.75,374.91 301.07,375.54 301.38,376.16 301.68,376.79 301.97,377.43 302.25,378.07 302.52,378.72 302.78,379.37 303.03,380.02 303.28,380.68 303.53,381.33 303.77,381.99 304.01,382.65 304.25,383.3 304.48,383.96 304.7,384.63 304.89,385.3 305.07,385.98 305.26,386.65 305.46,387.32 305.69,387.98 305.96,388.63 306.26,389.26 306.59,389.88 306.94,390.48 307.31,391.08 307.69,391.67 308.06,392.26 308.44,392.85 308.82,393.44 309.19,394.04 309.56,394.62 309.96,395.2 310.36,395.78 310.75,396.35 311.13,396.94 311.49,397.55 311.82,398.16 312.1,398.8 312.36,399.45 312.58,400.12 312.78,400.79 312.97,401.46 313.14,402.14 313.3,402.82 313.45,403.51 313.6,404.19 313.75,404.87 313.9,405.56 314.05,406.24 314.21,406.92 314.37,407.6 314.54,408.28 314.71,408.96 314.88,409.64 315.04,410.32 315.21,411 315.38,411.68 315.54,412.36 315.71,413.04 315.88,413.72 316.05,414.4 316.23,415.07 316.41,415.75 316.58,416.43 316.76,417.11 316.93,417.79 317.11,418.46 317.28,419.14 317.46,419.82 317.65,420.49 317.85,421.16 318.05,421.83 318.28,422.49 318.51,423.15 318.78,423.8 319.06,424.44 319.37,425.07 319.69,425.7 320.01,426.31 320.35,426.93 320.68,427.54 321.01,428.16 321.33,428.79 321.64,429.41 321.93,430.05 322.22,430.69 322.51,431.32 322.79,431.97 323.05,432.61 323.3,433.27 323.53,433.93 323.73,434.6 323.87,435.29 323.94,435.98 323.98,436.68 323.99,437.38 324.01,438.08 324.09,438.77 324.25,439.46 324.48,440.12 324.79,440.74 325.17,441.33 325.57,441.9 325.99,442.46 326.42,443.01 326.85,443.57 327.26,444.13 327.65,444.71 328.02,445.31 328.36,445.92 328.69,446.54 329.01,447.16 329.32,447.79 329.62,448.42 329.93,449.05 330.23,449.68 330.53,450.31 330.84,450.94 331.15,451.57 331.47,452.19 331.79,452.81 332.11,453.43 332.44,454.05 332.76,454.67 333.08,455.3 333.39,455.92 333.7,456.55 333.99,457.19 334.26,457.83 334.51,458.49 334.75,459.15 334.97,459.81 335.18,460.48 335.38,461.15 335.58,461.82 335.79,462.49 336.01,463.15 336.25,463.81 336.5,464.47 336.76,465.12 337.03,465.76 337.3,466.41 337.58,467.05 337.86,467.69 338.15,468.33 338.43,468.97 338.73,469.6 339.02,470.24 339.3,470.88 339.56,471.53 339.83,472.18 340.11,472.82 340.44,473.43 340.81,474.02 341.24,474.58 341.71,475.09 342.23,475.57 342.75,476.03 343.29,476.48 343.83,476.93 344.37,477.37 344.9,477.83 345.4,478.31 345.89,478.81 346.37,479.33 346.83,479.85 347.28,480.39 347.71,480.94 348.11,481.52 348.48,482.11 348.81,482.73 349.1,483.36 349.37,484.01 349.62,484.66 349.84,485.33 350.06,485.99 350.26,486.66 350.45,487.34 350.64,488.01 350.83,488.68 351.02,489.36 351.21,490.03 351.38,490.71 351.55,491.39 351.71,492.07 351.86,492.75 352.01,493.44 352.16,494.12 352.3,494.81 352.43,495.5 352.56,496.18 352.69,496.87 352.81,497.56 352.93,498.25 353.04,498.94 353.15,499.63 353.27,500.32 353.38,501.02 353.49,501.71 353.61,502.4 353.74,503.08 353.87,503.77 354,504.46 354.14,505.14 354.29,505.83 354.43,506.52 354.5,506.85" marker-start="url(#m6)" marker-mid="url(#m6)" marker-end="url(#m6)"/>
<polyline class="d" points="225.92,342.31 239.93,342.72 248.08,343.98 253.93,345.02 258.53,346.07 262.3,347.11" marker-start="url(#m6)" marker-mid="url(#m6)" marker-end="url(#m6)"/>
<polyline points="225.92,320.77 227.11,321.44 228.74,322.36 230.67,323.45 232.79,324.64 234.94,325.87 237,327.04 239,328.18 241.07,329.33 243.18,330.51 245.31,331.73 247.43,333.01 249.54,334.36 251.63,335.78 253.72,337.26 255.81,338.8 257.91,340.4 260,342.06 262.09,343.77 264.18,345.53 266.27,347.33 268.36,349.19 270.45,351.13 272.54,353.15 274.63,355.27 276.72,357.5 278.81,359.84 280.9,362.26 282.99,364.75 285.09,367.31 287.18,369.9 289.29,372.58 291.43,375.36 293.58,378.2 295.69,381.05 297.75,383.88 299.72,386.63 301.61,389.3 303.44,391.93 305.21,394.54 306.92,397.12 308.58,399.71 310.17,402.31 311.69,404.91 313.12,407.5 314.49,410.08 315.83,412.69 317.17,415.32 318.54,417.99 319.94,420.73 321.36,423.53 322.78,426.35 324.19,429.18 325.57,431.98 326.9,434.72 328.19,437.39 329.46,440.02 330.69,442.62 331.89,445.21 333.07,447.8 334.22,450.4 335.34,453.02 336.42,455.66 337.48,458.3 338.52,460.93 339.52,463.52 340.49,466.08 341.43,468.6 342.35,471.11 343.23,473.59 344.09,476.03 344.92,478.41 345.72,480.71 346.48,482.92 347.2,485.05 347.9,487.12 348.57,489.15 349.24,491.19 349.9,493.26 350.59,495.49 351.32,497.9 352.04,500.31 352.7,502.55 353.26,504.44 353.66,505.8" fill="none" stroke="#ff2020" stroke-width="0.65"/>
<polyline class="d" points="317,320.3 317,320.3" marker-start="url(#m6)"/>
<text x="329.5" y="323.7" font-size="9.45">6Okt-4</text>
<text x="369.9" y="532.5">-100</text>
<text x="369.9" y="509.77">0</text>
<text x="369.9" y="487.04">100</text>
<text x="369.9" y="464.31">200</text>
<text x="369.9" y="441.58">300</text>
<text x="369.9" y="418.85">400</text>
<text x="369.9" y="396.12">500</text>
<text x="369.9" y="373.39">600</text>
<text x="369.9" y="350.66">700</text>
<text x="369.9" y="327.93">800</text>
<text x="369.9" y="305.2">900</text>
<path d="M214.8 302.9H365.6V530.2H214.8ZM214.8 302.9v2.4M214.8 530.2v-2.4M218.71 302.9v2.4M218.71 530.2v-2.4M221.74 302.9v2.4M221.74 530.2v-2.4M224.21 302.9v2.4M224.21 530.2v-2.4M226.3 302.9v2.4M226.3 530.2v-2.4M228.12 302.9v2.4M228.12 530.2v-2.4M229.72 302.9v2.4M229.72 530.2v-2.4M231.15 302.9v4.3M231.15 530.2v-4.3M240.56 302.9v2.4M240.56 530.2v-2.4M246.06 302.9v2.4M246.06 530.2v-2.4M249.97 302.9v2.4M249.97 530.2v-2.4M253 302.9v2.4M253 530.2v-2.4M255.47 302.9v2.4M255.47 530.2v-2.4M257.56 302.9v2.4M257.56 530.2v-2.4M259.38 302.9v2.4M259.38 530.2v-2.4M260.98 302.9v2.4M260.98 530.2v-2.4M262.41 302.9v4.3M262.41 530.2v-4.3M271.82 302.9v2.4M271.82 530.2v-2.4M277.32 302.9v2.4M277.32 530.2v-2.4M281.23 302.9v2.4M281.23 530.2v-2.4M284.26 302.9v2.4M284.26 530.2v-2.4M286.73 302.9v2.4M286.73 530.2v-2.4M288.83 302.9v2.4M288.83 530.2v-2.4M290.64 302.9v2.4M290.64 530.2v-2.4M292.24 302.9v2.4M292.24 530.2v-2.4M293.67 302.9v4.3M293.67 530.2v-4.3M303.08 302.9v2.4M303.08 530.2v-2.4M308.58 302.9v2.4M308.58 530.2v-2.4M312.49 302.9v2.4M312.49 530.2v-2.4M315.52 302.9v2.4M315.52 530.2v-2.4M317.99 302.9v2.4M317.99 530.2v-2.4M320.09 302.9v2.4M320.09 530.2v-2.4M321.9 302.9v2.4M321.9 530.2v-2.4M323.5 302.9v2.4M323.5 530.2v-2.4M324.93 302.9v4.3M324.93 530.2v-4.3M334.34 302.9v2.4M334.34 530.2v-2.4M339.84 302.9v2.4M339.84 530.2v-2.4M343.75 302.9v2.4M343.75 530.2v-2.4M346.78 302.9v2.4M346.78 530.2v-2.4M349.25 302.9v2.4M349.25 530.2v-2.4M351.35 302.9v2.4M351.35 530.2v-2.4M353.16 302.9v2.4M353.16 530.2v-2.4M354.76 302.9v2.4M354.76 530.2v-2.4M356.19 302.9v4.3M356.19 530.2v-4.3M365.6 302.9v2.4M365.6 530.2v-2.4M214.8 530.2h4.3M365.6 530.2h-4.3M214.8 518.84h2.4M365.6 518.84h-2.4M214.8 507.47h4.3M365.6 507.47h-4.3M214.8 496.11h2.4M365.6 496.11h-2.4M214.8 484.74h4.3M365.6 484.74h-4.3M214.8 473.38h2.4M365.6 473.38h-2.4M214.8 462.01h4.3M365.6 462.01h-4.3M214.8 450.65h2.4M365.6 450.65h-2.4M214.8 439.28h4.3M365.6 439.28h-4.3M214.8 427.92h2.4M365.6 427.92h-2.4M214.8 416.55h4.3M365.6 416.55h-4.3M214.8 405.19h2.4M365.6 405.19h-2.4M214.8 393.82h4.3M365.6 393.82h-4.3M214.8 382.45h2.4M365.6 382.45h-2.4M214.8 371.09h4.3M365.6 371.09h-4.3M214.8 359.73h2.4M365.6 359.73h-2.4M214.8 348.36h4.3M365.6 348.36h-4.3M214.8 337h2.4M365.6 337h-2.4M214.8 325.63h4.3M365.6 325.63h-4.3M214.8 314.26h2.4M365.6 314.26h-2.4M214.8 302.9h4.3M365.6 302.9h-4.3" fill="none" stroke="#1a1a1a" stroke-width="1"/>
<text x="231.15" y="295.7" text-anchor="middle">1E-4</text>
<text x="262.41" y="295.7" text-anchor="middle">1E-3</text>
<text x="293.67" y="295.7" text-anchor="middle">0.01</text>
<text x="324.93" y="295.7" text-anchor="middle">0.1</text>
<text x="356.19" y="295.7" text-anchor="middle">1</text>
</g>
<g>
<polyline class="d" points="440.22,328.51 443,328.83 445.45,329.13 447.64,329.43 449.62,329.76 451.42,330.12 453.07,330.47 454.59,330.82 456.01,331.17 457.33,331.5 458.57,331.83 459.73,332.17 460.83,332.5 461.86,332.82 462.85,333.13 463.78,333.45 464.67,333.77 465.51,334.1 466.31,334.43 467.07,334.75 467.8,335.1 468.49,335.43 469.15,335.78 469.78,336.12 470.38,336.48 470.98,336.84 471.58,337.21 472.17,337.59 472.75,337.97 473.34,338.36 473.92,338.75 474.5,339.13 475.09,339.52 475.67,339.9 476.26,340.28 476.85,340.66 477.44,341.03 478.03,341.41 478.62,341.79 479.21,342.16 479.8,342.54 480.39,342.92 480.98,343.3 481.57,343.68 482.16,344.05 482.75,344.42 483.35,344.79 483.95,345.15 484.55,345.5 485.16,345.85 485.78,346.18 486.39,346.52 487.01,346.84 487.64,347.15 488.27,347.46 488.9,347.77 489.53,348.07 490.16,348.38 490.79,348.68 491.42,348.98 492.05,349.29 492.67,349.6 493.3,349.92 493.92,350.24 494.54,350.57 495.16,350.89 495.78,351.22 496.4,351.55 497.01,351.88 497.62,352.22 498.23,352.57 498.83,352.94 499.41,353.32 499.98,353.73 500.55,354.14 501.09,354.58 501.61,355.05 502.08,355.57 502.48,356.14 502.83,356.75 503.14,357.37 503.43,358.01 503.67,358.67 503.89,359.33 504.1,360 504.29,360.67 504.47,361.35 504.65,362.03 504.81,362.71 504.98,363.39 505.13,364.07 505.29,364.75 505.42,365.44 505.56,366.13 505.68,366.82 505.81,367.51 505.92,368.2 506.03,368.89 506.14,369.58 506.25,370.27 506.35,370.96 506.45,371.66 506.55,372.35 506.64,373.04 506.74,373.74 506.83,374.43 506.92,375.12 507,375.82 507.08,376.51 507.17,377.21 507.25,377.91 507.33,378.6 507.4,379.3 507.48,379.99 507.56,380.69 507.64,381.38 507.71,382.08 507.79,382.78 507.86,383.47 507.94,384.17 508.01,384.86 508.08,385.56 508.15,386.26 508.22,386.95 508.29,387.65 508.35,388.35 508.42,389.04 508.49,389.74 508.56,390.44 508.62,391.13 508.69,391.83 508.76,392.53 508.83,393.22 508.9,393.92 508.97,394.62 509.04,395.31 509.11,396.01 509.18,396.71 509.25,397.4 509.32,398.1 509.39,398.8 509.46,399.49 509.53,400.19 509.6,400.89 509.67,401.58 509.74,402.28 509.81,402.97 509.88,403.67 509.94,404.37 510.01,405.06 510.08,405.76 510.15,406.46 510.21,407.15 510.28,407.85 510.35,408.55 510.41,409.25 510.48,409.94 510.55,410.64 510.62,411.33 510.69,412.03 510.77,412.73 510.85,413.42 510.92,414.12 511,414.81 511.08,415.51 511.15,416.21 511.23,416.9 511.31,417.6 511.4,418.29 511.49,418.99 511.61,419.68 511.74,420.36 511.91,421.04 512.18,421.69 512.58,422.26 513.1,422.72 513.56,423.24 513.88,423.86 514.08,424.53 514.21,425.22 514.3,425.91 514.38,426.61 514.44,427.3 514.5,428 514.55,428.7 514.59,429.4 514.64,430.1 514.69,430.79 514.76,431.49 514.82,432.19 514.89,432.88 514.97,433.58 515.04,434.28 515.11,434.97 515.19,435.67 515.26,436.36 515.34,437.06 515.42,437.76 515.5,438.45 515.58,439.15 515.66,439.84 515.75,440.54 515.84,441.23 515.95,441.92 516.05,442.61 516.16,443.31 516.27,444 516.39,444.69 516.52,445.37 516.66,446.06 516.79,446.75 516.93,447.43 517.07,448.12 517.22,448.8 517.36,449.49 517.51,450.17 517.65,450.86 517.8,451.54 517.94,452.23 518.08,452.91 518.22,453.6 518.36,454.29 518.5,454.97 518.63,455.66 518.77,456.35 518.91,457.03 519.04,457.72 519.18,458.41 519.32,459.09 519.46,459.78 519.59,460.46 519.73,461.15 519.87,461.84 520.01,462.52 520.14,463.21 520.28,463.9 520.42,464.58 520.55,465.27 520.69,465.96 520.83,466.64 520.97,467.33 521.1,468.01 521.24,468.7 521.38,469.39 521.52,470.07 521.65,470.76 521.79,471.45 521.93,472.13 522.06,472.82 522.19,473.51 522.32,474.2 522.44,474.89 522.56,475.58 522.69,476.26 522.83,476.95 522.97,477.63 523.14,478.31 523.35,478.98 523.58,479.64 523.85,480.29 524.15,480.92 524.47,481.54 524.79,482.17 524.9,482.39" marker-start="url(#m7)" marker-mid="url(#m7)" marker-end="url(#m7)"/>
<polyline class="d" points="400.5,327.04 414.51,327.04 422.87,327.46 428.72,327.67 433.32,327.88 437.09,328.3" marker-start="url(#m7)" marker-mid="url(#m7)" marker-end="url(#m7)"/>
<polyline points="400.5,324.53 402.65,324.55 405.61,324.57 409.12,324.59 412.93,324.62 416.76,324.67 420.36,324.74 423.83,324.82 427.41,324.9 431.01,324.99 434.57,325.12 438.01,325.31 441.27,325.58 444.35,325.93 447.31,326.33 450.15,326.8 452.88,327.31 455.5,327.89 457.99,328.51 460.35,329.17 462.56,329.88 464.66,330.64 466.67,331.46 468.62,332.35 470.54,333.32 472.43,334.37 474.26,335.49 476.03,336.69 477.74,337.95 479.4,339.26 480.99,340.63 482.53,342.08 484.01,343.61 485.44,345.21 486.8,346.83 488.11,348.45 489.36,350.04 490.53,351.6 491.64,353.14 492.69,354.68 493.69,356.24 494.67,357.82 495.63,359.45 496.57,361.11 497.49,362.78 498.37,364.48 499.23,366.23 500.06,368.03 500.85,369.9 501.62,371.87 502.35,373.93 503.05,376.05 503.73,378.19 504.39,380.33 505.04,382.45 505.67,384.51 506.27,386.55 506.87,388.59 507.44,390.66 508.02,392.78 508.59,394.99 509.16,397.31 509.74,399.72 510.3,402.18 510.86,404.67 511.4,407.16 511.94,409.63 512.45,412.04 512.95,414.43 513.44,416.81 513.92,419.23 514.39,421.7 514.86,424.26 515.33,426.93 515.8,429.68 516.26,432.5 516.71,435.34 517.15,438.18 517.58,440.99 517.99,443.78 518.39,446.56 518.77,449.35 519.14,452.14 519.51,454.93 519.88,457.71 520.25,460.5 520.61,463.29 520.96,466.08 521.31,468.87 521.65,471.65 521.97,474.44 522.28,477.22 522.57,479.98 522.86,482.74 523.13,485.51 523.39,488.32 523.64,491.17 523.89,494.27 524.14,497.67 524.38,501.1 524.59,504.29 524.77,506.99 524.9,508.94" fill="none" stroke="#ff2020" stroke-width="0.65"/>
<polyline class="d" points="495.5,320.3 495.5,320.3" marker-start="url(#m7)"/>
<text x="507.5" y="323.7" font-size="9.45">7Okt-3</text>
<text x="544.3" y="532.5">-300</text>
<text x="544.3" y="516.82">-200</text>
<text x="544.3" y="501.15">-100</text>
<text x="544.3" y="485.47">0</text>
<text x="544.3" y="469.8">100</text>
<text x="544.3" y="454.12">200</text>
<text x="544.3" y="438.44">300</text>
<text x="544.3" y="422.77">400</text>
<text x="544.3" y="407.09">500</text>
<text x="544.3" y="391.42">600</text>
<text x="544.3" y="375.74">700</text>
<text x="544.3" y="360.07">800</text>
<text x="544.3" y="344.39">900</text>
<text x="544.3" y="328.71">1000</text>
<text x="544.3" y="313.04">1100</text>
<path d="M389.6 302.9H540V530.2H389.6ZM389.6 302.9v2.4M389.6 530.2v-2.4M393.5 302.9v2.4M393.5 530.2v-2.4M396.52 302.9v2.4M396.52 530.2v-2.4M398.99 302.9v2.4M398.99 530.2v-2.4M401.07 302.9v2.4M401.07 530.2v-2.4M402.88 302.9v2.4M402.88 530.2v-2.4M404.48 302.9v2.4M404.48 530.2v-2.4M405.9 302.9v4.3M405.9 530.2v-4.3M415.29 302.9v2.4M415.29 530.2v-2.4M420.78 302.9v2.4M420.78 530.2v-2.4M424.67 302.9v2.4M424.67 530.2v-2.4M427.69 302.9v2.4M427.69 530.2v-2.4M430.16 302.9v2.4M430.16 530.2v-2.4M432.25 302.9v2.4M432.25 530.2v-2.4M434.06 302.9v2.4M434.06 530.2v-2.4M435.65 302.9v2.4M435.65 530.2v-2.4M437.08 302.9v4.3M437.08 530.2v-4.3M446.47 302.9v2.4M446.47 530.2v-2.4M451.96 302.9v2.4M451.96 530.2v-2.4M455.85 302.9v2.4M455.85 530.2v-2.4M458.87 302.9v2.4M458.87 530.2v-2.4M461.34 302.9v2.4M461.34 530.2v-2.4M463.43 302.9v2.4M463.43 530.2v-2.4M465.24 302.9v2.4M465.24 530.2v-2.4M466.83 302.9v2.4M466.83 530.2v-2.4M468.26 302.9v4.3M468.26 530.2v-4.3M477.64 302.9v2.4M477.64 530.2v-2.4M483.13 302.9v2.4M483.13 530.2v-2.4M487.03 302.9v2.4M487.03 530.2v-2.4M490.05 302.9v2.4M490.05 530.2v-2.4M492.52 302.9v2.4M492.52 530.2v-2.4M494.61 302.9v2.4M494.61 530.2v-2.4M496.41 302.9v2.4M496.41 530.2v-2.4M498.01 302.9v2.4M498.01 530.2v-2.4M499.44 302.9v4.3M499.44 530.2v-4.3M508.82 302.9v2.4M508.82 530.2v-2.4M514.31 302.9v2.4M514.31 530.2v-2.4M518.21 302.9v2.4M518.21 530.2v-2.4M521.23 302.9v2.4M521.23 530.2v-2.4M523.7 302.9v2.4M523.7 530.2v-2.4M525.78 302.9v2.4M525.78 530.2v-2.4M527.59 302.9v2.4M527.59 530.2v-2.4M529.19 302.9v2.4M529.19 530.2v-2.4M530.61 302.9v4.3M530.61 530.2v-4.3M540 302.9v2.4M540 530.2v-2.4M389.6 530.2h4.3M540 530.2h-4.3M389.6 522.36h2.4M540 522.36h-2.4M389.6 514.52h4.3M540 514.52h-4.3M389.6 506.69h2.4M540 506.69h-2.4M389.6 498.85h4.3M540 498.85h-4.3M389.6 491.01h2.4M540 491.01h-2.4M389.6 483.17h4.3M540 483.17h-4.3M389.6 475.33h2.4M540 475.33h-2.4M389.6 467.5h4.3M540 467.5h-4.3M389.6 459.66h2.4M540 459.66h-2.4M389.6 451.82h4.3M540 451.82h-4.3M389.6 443.98h2.4M540 443.98h-2.4M389.6 436.14h4.3M540 436.14h-4.3M389.6 428.31h2.4M540 428.31h-2.4M389.6 420.47h4.3M540 420.47h-4.3M389.6 412.63h2.4M540 412.63h-2.4M389.6 404.79h4.3M540 404.79h-4.3M389.6 396.96h2.4M540 396.96h-2.4M389.6 389.12h4.3M540 389.12h-4.3M389.6 381.28h2.4M540 381.28h-2.4M389.6 373.44h4.3M540 373.44h-4.3M389.6 365.6h2.4M540 365.6h-2.4M389.6 357.77h4.3M540 357.77h-4.3M389.6 349.93h2.4M540 349.93h-2.4M389.6 342.09h4.3M540 342.09h-4.3M389.6 334.25h2.4M540 334.25h-2.4M389.6 326.41h4.3M540 326.41h-4.3M389.6 318.58h2.4M540 318.58h-2.4M389.6 310.74h4.3M540 310.74h-4.3M389.6 302.9h2.4M540 302.9h-2.4" fill="none" stroke="#1a1a1a" stroke-width="1"/>
<text x="405.9" y="295.7" text-anchor="middle">1E-4</text>
<text x="437.08" y="295.7" text-anchor="middle">1E-3</text>
<text x="468.26" y="295.7" text-anchor="middle">0.01</text>
<text x="499.44" y="295.7" text-anchor="middle">0.1</text>
<text x="530.61" y="295.7" text-anchor="middle">1</text>
</g>
<g>
<polyline class="d" points="612.13,322.86 615.06,323.34 617.7,323.78 620.09,324.22 622.27,324.72 624.27,325.24 626.12,325.78 627.83,326.33 629.42,326.87 630.91,327.41 632.32,327.95 633.63,328.48 634.87,329.02 636.04,329.57 637.13,330.13 638.16,330.72 639.11,331.31 640.02,331.91 640.87,332.5 641.69,333.08 642.48,333.65 643.25,334.19 643.99,334.71 644.7,335.21 645.39,335.71 646.05,336.19 646.7,336.67 647.32,337.12 647.93,337.57 648.53,337.99 649.12,338.39 649.71,338.78 650.31,339.14 650.9,339.51 651.5,339.87 652.09,340.25 652.66,340.65 653.23,341.07 653.76,341.52 654.27,342 654.75,342.51 655.2,343.04 655.64,343.59 656.07,344.14 656.48,344.71 656.9,345.27 657.31,345.84 657.73,346.39 658.16,346.95 658.61,347.49 659.06,348.02 659.52,348.55 659.98,349.08 660.44,349.61 660.89,350.14 661.32,350.7 661.73,351.26 662.12,351.84 662.48,352.44 662.82,353.06 663.12,353.69 663.41,354.32 663.68,354.97 663.94,355.62 664.19,356.27 664.44,356.93 664.7,357.58 664.96,358.23 665.22,358.88 665.48,359.53 665.73,360.18 665.99,360.83 666.24,361.49 666.49,362.14 666.74,362.79 667.01,363.44 667.28,364.08 667.56,364.73 667.83,365.37 668.1,366.01 668.37,366.66 668.64,367.31 668.91,367.95 669.21,368.59 669.52,369.21 669.87,369.82 670.26,370.4 670.68,370.96 671.2,371.43 671.76,371.85 672.35,372.22 672.98,372.54 673.6,372.84 674.24,373.14 674.87,373.45 675.47,373.8 676.04,374.2 676.58,374.66 677.08,375.14 677.53,375.67 677.92,376.26 678.24,376.88 678.52,377.52 678.76,378.17 678.96,378.85 679.13,379.52 679.3,380.2 679.45,380.89 679.61,381.57 679.76,382.25 679.94,382.93 680.11,383.61 680.3,384.28 680.5,384.95 680.69,385.63 680.89,386.3 681.09,386.97 681.28,387.64 681.48,388.31 681.67,388.99 681.86,389.66 682.04,390.34 682.22,391.01 682.4,391.69 682.58,392.37 682.75,393.05 682.92,393.72 683.09,394.4 683.26,395.08 683.42,395.76 683.59,396.44 683.76,397.12 683.92,397.8 684.09,398.48 684.26,399.16 684.43,399.84 684.61,400.52 684.78,401.2 684.96,401.87 685.14,402.55 685.31,403.23 685.49,403.91 685.66,404.58 685.83,405.26 685.99,405.94 686.15,406.63 686.3,407.31 686.43,408 686.55,408.69 686.65,409.38 686.74,410.07 686.82,410.77 686.9,411.46 686.98,412.16 687.08,412.85 687.17,413.55 687.31,414.23 687.46,414.92 687.7,415.57 688.05,416.17 688.57,416.6 689.24,416.79 689.94,416.86 690.63,416.95 691.24,417.25 691.68,417.78 691.98,418.41 692.18,419.08 692.34,419.76 692.48,420.45 692.59,421.14 692.69,421.83 692.79,422.53 692.89,423.22 692.99,423.91 693.09,424.61 693.2,425.3 693.29,425.99 693.39,426.68 693.48,427.38 693.56,428.07 693.64,428.77 693.72,429.46 693.8,430.16 693.88,430.86 693.95,431.55 694.03,432.25 694.11,432.94 694.18,433.64 694.26,434.34 694.33,435.03 694.41,435.73 694.48,436.42 694.55,437.12 694.62,437.82 694.69,438.51 694.76,439.21 694.83,439.91 694.9,440.6 694.97,441.3 695.04,442 695.1,442.69 695.17,443.39 695.24,444.09 695.31,444.78 695.38,445.48 695.45,446.18 695.51,446.87 695.58,447.57 695.65,448.27 695.72,448.96 695.8,449.66 695.87,450.35 695.94,451.05 696.01,451.75 696.08,452.44 696.15,453.14 696.22,453.84 696.29,454.53 696.36,455.23 696.43,455.93 696.5,456.62 696.57,457.32 696.64,458.02 696.7,458.71 696.77,459.41 696.83,460.11 696.9,460.8 696.96,461.5 697.03,462.2 697.09,462.89 697.15,463.59 697.21,464.29 697.27,464.99 697.33,465.68 697.39,466.38 697.45,467.08 697.51,467.78 697.57,468.47 697.62,469.17 697.67,469.87 697.73,470.57 697.78,471.27 697.83,471.96 697.87,472.66 697.92,473.36 697.96,474.06 698,474.76 698.04,475.46 698.08,476.16 698.12,476.86 698.15,477.56 698.19,478.25 698.22,478.95 698.25,479.65 698.29,480.35 698.32,481.05 698.35,481.75 698.38,482.45 698.41,483.15 698.44,483.85 698.47,484.55 698.49,485.25 698.52,485.95 698.55,486.65 698.57,487.35 698.6,488.05 698.62,488.75 698.65,489.44 698.67,490.14 698.69,490.84 698.71,491.54 698.73,492.24 698.75,492.94 698.78,493.64 698.8,494.34 698.82,495.04 698.84,495.74 698.86,496.44 698.89,497.14 698.91,497.84 698.94,498.54 698.96,499.24 698.99,499.94 699.01,500.64 699.04,501.34 699.06,502.04 699.09,502.74 699.11,503.44 699.14,504.14 699.17,504.84 699.19,505.54 699.22,506.24 699.24,506.93 699.27,507.63 699.29,508.33 699.32,508.94" marker-start="url(#m8)" marker-mid="url(#m8)" marker-end="url(#m8)"/>
<polyline class="d" points="573.45,321.4 587.04,321.4 594.99,321.61 600.84,321.82 605.23,322.03 609,322.44" marker-start="url(#m8)" marker-mid="url(#m8)" marker-end="url(#m8)"/>
<polyline points="573.45,319.31 575.3,319.34 577.87,319.38 580.9,319.43 584.14,319.49 587.32,319.59 590.18,319.73 592.74,319.89 595.21,320.07 597.63,320.29 600.01,320.54 602.4,320.84 604.81,321.19 607.28,321.6 609.77,322.05 612.26,322.55 614.73,323.09 617.13,323.69 619.45,324.33 621.67,325.02 623.82,325.77 625.92,326.57 627.97,327.41 629.99,328.27 631.99,329.13 634,330 635.98,330.87 637.94,331.76 639.85,332.7 641.71,333.7 643.49,334.78 645.19,335.93 646.82,337.13 648.39,338.39 649.92,339.73 651.42,341.17 652.9,342.72 654.37,344.41 655.81,346.22 657.21,348.12 658.59,350.1 659.94,352.14 661.26,354.22 662.56,356.34 663.82,358.52 665.05,360.76 666.26,363.05 667.44,365.4 668.58,367.81 669.7,370.31 670.79,372.88 671.85,375.52 672.88,378.19 673.88,380.86 674.85,383.49 675.79,386.08 676.67,388.64 677.53,391.2 678.38,393.79 679.22,396.44 680.08,399.17 680.96,402.01 681.86,404.94 682.76,407.93 683.64,410.94 684.5,413.96 685.31,416.95 686.07,419.9 686.8,422.83 687.5,425.77 688.18,428.72 688.84,431.69 689.49,434.72 690.13,437.79 690.75,440.91 691.36,444.06 691.94,447.22 692.51,450.38 693.04,453.53 693.55,456.67 694.04,459.81 694.49,462.94 694.93,466.08 695.35,469.21 695.76,472.35 696.15,475.5 696.53,478.66 696.89,481.82 697.23,484.97 697.55,488.09 697.85,491.17 698.15,494.39 698.44,497.83 698.72,501.23 698.96,504.37 699.16,507.02 699.32,508.94" fill="none" stroke="#ff2020" stroke-width="0.65"/>
<polyline class="d" points="666,319 666,319" marker-start="url(#m8)"/>
<text x="678.5" y="322.4" font-size="9.45">7Okt-4</text>
<text x="721.3" y="525.61">-100</text>
<text x="721.3" y="511.84">0</text>
<text x="721.3" y="498.06">100</text>
<text x="721.3" y="484.28">200</text>
<text x="721.3" y="470.51">300</text>
<text x="721.3" y="456.73">400</text>
<text x="721.3" y="442.96">500</text>
<text x="721.3" y="429.18">600</text>
<text x="721.3" y="415.41">700</text>
<text x="721.3" y="401.63">800</text>
<text x="721.3" y="387.85">900</text>
<text x="721.3" y="374.08">1000</text>
<text x="721.3" y="360.3">1100</text>
<text x="721.3" y="346.53">1200</text>
<text x="721.3" y="332.75">1300</text>
<text x="721.3" y="318.98">1400</text>
<text x="721.3" y="305.2">1500</text>
<path d="M563.6 302.9H714.5V530.2H563.6ZM563.6 302.9v2.4M563.6 530.2v-2.4M567.37 302.9v2.4M567.37 530.2v-2.4M570.3 302.9v2.4M570.3 530.2v-2.4M572.69 302.9v2.4M572.69 530.2v-2.4M574.71 302.9v2.4M574.71 530.2v-2.4M576.46 302.9v2.4M576.46 530.2v-2.4M578 302.9v2.4M578 530.2v-2.4M579.38 302.9v4.3M579.38 530.2v-4.3M588.47 302.9v2.4M588.47 530.2v-2.4M593.78 302.9v2.4M593.78 530.2v-2.4M597.55 302.9v2.4M597.55 530.2v-2.4M600.48 302.9v2.4M600.48 530.2v-2.4M602.87 302.9v2.4M602.87 530.2v-2.4M604.89 302.9v2.4M604.89 530.2v-2.4M606.64 302.9v2.4M606.64 530.2v-2.4M608.18 302.9v2.4M608.18 530.2v-2.4M609.56 302.9v4.3M609.56 530.2v-4.3M618.65 302.9v2.4M618.65 530.2v-2.4M623.96 302.9v2.4M623.96 530.2v-2.4M627.73 302.9v2.4M627.73 530.2v-2.4M630.66 302.9v2.4M630.66 530.2v-2.4M633.05 302.9v2.4M633.05 530.2v-2.4M635.07 302.9v2.4M635.07 530.2v-2.4M636.82 302.9v2.4M636.82 530.2v-2.4M638.36 302.9v2.4M638.36 530.2v-2.4M639.74 302.9v4.3M639.74 530.2v-4.3M648.83 302.9v2.4M648.83 530.2v-2.4M654.14 302.9v2.4M654.14 530.2v-2.4M657.91 302.9v2.4M657.91 530.2v-2.4M660.84 302.9v2.4M660.84 530.2v-2.4M663.23 302.9v2.4M663.23 530.2v-2.4M665.25 302.9v2.4M665.25 530.2v-2.4M667 302.9v2.4M667 530.2v-2.4M668.54 302.9v2.4M668.54 530.2v-2.4M669.92 302.9v4.3M669.92 530.2v-4.3M679.01 302.9v2.4M679.01 530.2v-2.4M684.32 302.9v2.4M684.32 530.2v-2.4M688.09 302.9v2.4M688.09 530.2v-2.4M691.02 302.9v2.4M691.02 530.2v-2.4M693.41 302.9v2.4M693.41 530.2v-2.4M695.43 302.9v2.4M695.43 530.2v-2.4M697.18 302.9v2.4M697.18 530.2v-2.4M698.72 302.9v2.4M698.72 530.2v-2.4M700.1 302.9v4.3M700.1 530.2v-4.3M709.19 302.9v2.4M709.19 530.2v-2.4M714.5 302.9v2.4M714.5 530.2v-2.4M563.6 530.2h2.4M714.5 530.2h2.4M563.6 523.31h4.3M714.5 523.31h4.3M563.6 516.42h2.4M714.5 516.42h2.4M563.6 509.54h4.3M714.5 509.54h4.3M563.6 502.65h2.4M714.5 502.65h2.4M563.6 495.76h4.3M714.5 495.76h4.3M563.6 488.87h2.4M714.5 488.87h2.4M563.6 481.98h4.3M714.5 481.98h4.3M563.6 475.1h2.4M714.5 475.1h2.4M563.6 468.21h4.3M714.5 468.21h4.3M563.6 461.32h2.4M714.5 461.32h2.4M563.6 454.43h4.3M714.5 454.43h4.3M563.6 447.55h2.4M714.5 447.55h2.4M563.6 440.66h4.3M714.5 440.66h4.3M563.6 433.77h2.4M714.5 433.77h2.4M563.6 426.88h4.3M714.5 426.88h4.3M563.6 419.99h2.4M714.5 419.99h2.4M563.6 413.11h4.3M714.5 413.11h4.3M563.6 406.22h2.4M714.5 406.22h2.4M563.6 399.33h4.3M714.5 399.33h4.3M563.6 392.44h2.4M714.5 392.44h2.4M563.6 385.55h4.3M714.5 385.55h4.3M563.6 378.67h2.4M714.5 378.67h2.4M563.6 371.78h4.3M714.5 371.78h4.3M563.6 364.89h2.4M714.5 364.89h2.4M563.6 358h4.3M714.5 358h4.3M563.6 351.12h2.4M714.5 351.12h2.4M563.6 344.23h4.3M714.5 344.23h4.3M563.6 337.34h2.4M714.5 337.34h2.4M563.6 330.45h4.3M714.5 330.45h4.3M563.6 323.56h2.4M714.5 323.56h2.4M563.6 316.68h4.3M714.5 316.68h4.3M563.6 309.79h2.4M714.5 309.79h2.4M563.6 302.9h4.3M714.5 302.9h4.3" fill="none" stroke="#1a1a1a" stroke-width="1"/>
<text x="579.38" y="295.7" text-anchor="middle">1E-4</text>
<text x="609.56" y="295.7" text-anchor="middle">1E-3</text>
<text x="639.74" y="295.7" text-anchor="middle">0.01</text>
<text x="669.92" y="295.7" text-anchor="middle">0.1</text>
<text x="700.1" y="295.7" text-anchor="middle">1</text>
<text transform="translate(748.5 416.55) rotate(-90)" font-size="8.7" text-anchor="middle"><tspan font-style="italic" font-size="9.8">M</tspan><tspan font-size="5.6" dy="2.8" style="stroke-width:0.06px">cum</tspan><tspan dy="-2.8"> (</tspan><tspan font-style="italic">m</tspan><tspan font-size="5.6" dy="2.8" font-style="italic" style="stroke-width:0.06px">t</tspan><tspan dy="-2.8">)</tspan></text>
</g>
<g>
<polyline class="d" points="91.22,598.6 93.94,599.21 96.34,599.75 98.48,600.26 100.41,600.73 102.18,601.17 103.8,601.58 105.31,601.96 106.71,602.31 108.02,602.63 109.26,602.92 110.42,603.19 111.52,603.46 112.57,603.71 113.56,603.97 114.5,604.23 115.39,604.49 116.24,604.76 117.06,605.03 117.83,605.3 118.58,605.57 119.28,605.85 119.96,606.15 120.6,606.45 121.22,606.78 121.82,607.15 122.39,607.54 122.94,607.98 123.46,608.45 123.96,608.94 124.45,609.44 124.94,609.94 125.43,610.44 125.93,610.93 126.42,611.42 126.91,611.93 127.39,612.44 127.87,612.95 128.35,613.46 128.85,613.95 129.35,614.43 129.88,614.89 130.44,615.31 131.03,615.7 131.63,616.05 132.24,616.39 132.86,616.72 133.47,617.06 134.08,617.41 134.68,617.76 135.29,618.11 135.9,618.46 136.51,618.8 137.12,619.14 137.72,619.5 138.32,619.85 138.92,620.22 139.51,620.6 140.09,620.99 140.65,621.4 141.21,621.83 141.76,622.26 142.3,622.71 142.83,623.17 143.35,623.63 143.86,624.11 144.37,624.59 144.87,625.08 145.37,625.57 145.87,626.07 146.36,626.56 146.85,627.07 147.33,627.57 147.81,628.08 148.28,628.6 148.75,629.12 149.21,629.65 149.66,630.18 150.1,630.72 150.53,631.28 150.96,631.83 151.37,632.4 151.77,632.97 152.16,633.55 152.54,634.14 152.92,634.73 153.27,635.34 153.61,635.95 153.94,636.57 154.24,637.19 154.54,637.83 154.79,638.48 155.04,639.14 155.25,639.8 155.45,640.48 155.63,641.15 155.8,641.83 155.97,642.51 156.14,643.19 156.3,643.87 156.48,644.55 156.66,645.22 156.84,645.9 157.01,646.58 157.17,647.26 157.33,647.94 157.48,648.62 157.64,649.31 157.82,649.98 158,650.66 158.22,651.32 158.49,651.97 158.8,652.59 159.26,653.12 159.88,653.45 160.55,653.64 161.23,653.82 161.85,654.13 162.32,654.65 162.61,655.29 162.83,655.95 163,656.63 163.15,657.31 163.26,658 163.38,658.69 163.49,659.38 163.61,660.07 163.74,660.76 163.89,661.45 164.03,662.13 164.17,662.82 164.31,663.5 164.45,664.19 164.59,664.87 164.73,665.56 164.86,666.25 165,666.93 165.13,667.62 165.26,668.31 165.39,669 165.52,669.69 165.64,670.37 165.76,671.06 165.88,671.75 166,672.44 166.11,673.14 166.23,673.83 166.34,674.52 166.46,675.21 166.58,675.9 166.71,676.58 166.84,677.27 166.97,677.96 167.11,678.64 167.26,679.33 167.4,680.02 167.55,680.7 167.7,681.38 167.86,682.07 168.01,682.75 168.18,683.43 168.36,684.1 168.54,684.78 168.73,685.45 168.94,686.12 169.16,686.78 169.39,687.45 169.63,688.1 169.87,688.76 170.1,689.42 170.33,690.09 170.53,690.75 170.72,691.43 170.87,692.11 170.99,692.8 171.09,693.49 171.17,694.19 171.24,694.89 171.3,695.4" marker-start="url(#m9)" marker-mid="url(#m9)" marker-end="url(#m9)"/>
<polyline class="d" points="176.94,696.44 176.97,697.14 177,697.84 177.03,698.54 177.06,699.24 177.08,699.94 177.11,700.64 177.14,701.34 177.17,702.04 177.2,702.74 177.22,703.44 177.25,704.14 177.28,704.84 177.31,705.54 177.34,706.24 177.36,706.94 177.39,707.64 177.42,708.33 177.45,709.03 177.48,709.73 177.51,710.43 177.54,711.13 177.56,711.83 177.59,712.53 177.62,713.23 177.65,713.93 177.68,714.63 177.7,715.33 177.73,716.03 177.76,716.73 177.78,717.43 177.81,718.13 177.83,718.83 177.86,719.53 177.88,720.23 177.9,720.93 177.93,721.63 177.95,722.32 177.97,723.02 178,723.72 178.02,724.42 178.04,725.12 178.06,725.82 178.09,726.52 178.11,727.22 178.13,727.92 178.16,728.62 178.18,729.32 178.2,730.02 178.23,730.72 178.25,731.42 178.27,732.12 178.3,732.82 178.32,733.52 178.34,734.22 178.37,734.92 178.39,735.62 178.41,736.32 178.44,737.02 178.46,737.72 178.48,738.42 178.51,739.12 178.53,739.82 178.55,740.51 178.58,741.21 178.6,741.91 178.62,742.61 178.64,743.31 178.67,744.01 178.69,744.71 178.71,745.41 178.74,746.11 178.76,746.81 178.78,747.51 178.8,748.21 178.83,748.91 178.85,749.61 178.87,750.31 178.9,751.01 178.92,751.71 178.94,752.41 178.97,753.11 178.99,753.81 179.02,754.51 179.04,755.21 179.07,755.91 179.09,756.61 179.12,757.31 179.15,758 179.17,758.7 179.2,759.4 179.23,760.1 179.26,760.8 179.28,761.5 179.31,762.2 179.34,762.9 179.37,763.6 179.4,764.3 179.43,765 179.46,765.7 179.5,766.4 179.53,767.1 179.56,767.8 179.6,768.49 179.63,769.19 179.67,769.89 179.71,770.59 179.74,771.29 179.78,771.99 179.81,772.69 179.85,773.39 179.88,774.09 179.92,774.79 179.95,775.49 179.98,776.19 180.01,776.88 180.04,777.58 180.07,778.28 180.08,778.4" marker-start="url(#m9)" marker-mid="url(#m9)" marker-end="url(#m9)"/>
<polyline class="d" points="51.5,596.93 65.72,596.93 74.08,597.13 79.72,597.34 84.32,597.76 88.09,598.18" marker-start="url(#m9)" marker-mid="url(#m9)" marker-end="url(#m9)"/>
<polyline points="51.5,591.28 53.22,591.34 55.6,591.42 58.42,591.52 61.45,591.63 64.45,591.76 67.18,591.91 69.68,592.06 72.14,592.22 74.56,592.39 76.98,592.6 79.39,592.85 81.81,593.16 84.28,593.54 86.77,593.97 89.26,594.44 91.73,594.96 94.13,595.51 96.45,596.09 98.69,596.7 100.86,597.35 102.98,598.04 105.05,598.75 107.05,599.5 108.99,600.27 110.86,601.04 112.63,601.82 114.35,602.62 116.04,603.48 117.73,604.43 119.45,605.5 121.21,606.7 123.01,608.01 124.81,609.42 126.57,610.88 128.28,612.37 129.9,613.86 131.43,615.36 132.88,616.88 134.28,618.43 135.63,620.02 136.96,621.63 138.26,623.27 139.56,624.93 140.82,626.6 142.05,628.3 143.26,630.04 144.44,631.85 145.58,633.72 146.7,635.69 147.79,637.75 148.85,639.86 149.88,642.01 150.88,644.15 151.85,646.27 152.79,648.33 153.7,650.37 154.57,652.41 155.42,654.47 156.26,656.6 157.08,658.81 157.89,661.13 158.69,663.53 159.47,666 160.23,668.49 160.97,670.98 161.68,673.45 162.36,675.86 163,678.25 163.61,680.63 164.22,683.05 164.83,685.52 165.44,688.08 166.08,690.75 166.73,693.5 167.38,696.31 168.02,699.15 168.63,702 169.21,704.81 169.75,707.59 170.25,710.38 170.74,713.17 171.21,715.96 171.67,718.75 172.13,721.53 172.61,724.37 173.08,727.26 173.55,730.16 174,732.99 174.44,735.71 174.85,738.26 175.23,740.43 175.57,742.25 175.9,743.94 176.22,745.77 176.57,747.97 176.94,750.8 177.39,754.68 177.9,759.48 178.43,764.65 178.93,769.66 179.36,773.94 179.66,776.94" fill="none" stroke="#ff2020" stroke-width="0.65"/>
<polyline class="d" points="138.3,588.3 138.3,588.3" marker-start="url(#m9)"/>
<text x="151" y="591.7" font-size="9.45">8Okt-3</text>
<text x="33.8" y="800.4" text-anchor="end">-100</text>
<text x="33.8" y="782.22" text-anchor="end">0</text>
<text x="33.8" y="764.05" text-anchor="end">100</text>
<text x="33.8" y="745.87" text-anchor="end">200</text>
<text x="33.8" y="727.7" text-anchor="end">300</text>
<text x="33.8" y="709.52" text-anchor="end">400</text>
<text x="33.8" y="691.34" text-anchor="end">500</text>
<text x="33.8" y="673.17" text-anchor="end">600</text>
<text x="33.8" y="654.99" text-anchor="end">700</text>
<text x="33.8" y="636.82" text-anchor="end">800</text>
<text x="33.8" y="618.64" text-anchor="end">900</text>
<text x="33.8" y="600.46" text-anchor="end">1000</text>
<text x="33.8" y="582.29" text-anchor="end">1100</text>
<path d="M40.5 570.9H191.4V798.1H40.5ZM40.5 570.9v2.4M40.5 798.1v-2.4M44.41 570.9v2.4M44.41 798.1v-2.4M47.44 570.9v2.4M47.44 798.1v-2.4M49.92 570.9v2.4M49.92 798.1v-2.4M52.01 570.9v2.4M52.01 798.1v-2.4M53.83 570.9v2.4M53.83 798.1v-2.4M55.43 570.9v2.4M55.43 798.1v-2.4M56.86 570.9v4.3M56.86 798.1v-4.3M66.27 570.9v2.4M66.27 798.1v-2.4M71.78 570.9v2.4M71.78 798.1v-2.4M75.69 570.9v2.4M75.69 798.1v-2.4M78.72 570.9v2.4M78.72 798.1v-2.4M81.2 570.9v2.4M81.2 798.1v-2.4M83.29 570.9v2.4M83.29 798.1v-2.4M85.11 570.9v2.4M85.11 798.1v-2.4M86.71 570.9v2.4M86.71 798.1v-2.4M88.14 570.9v4.3M88.14 798.1v-4.3M97.55 570.9v2.4M97.55 798.1v-2.4M103.06 570.9v2.4M103.06 798.1v-2.4M106.97 570.9v2.4M106.97 798.1v-2.4M110 570.9v2.4M110 798.1v-2.4M112.48 570.9v2.4M112.48 798.1v-2.4M114.57 570.9v2.4M114.57 798.1v-2.4M116.39 570.9v2.4M116.39 798.1v-2.4M117.99 570.9v2.4M117.99 798.1v-2.4M119.42 570.9v4.3M119.42 798.1v-4.3M128.84 570.9v2.4M128.84 798.1v-2.4M134.35 570.9v2.4M134.35 798.1v-2.4M138.25 570.9v2.4M138.25 798.1v-2.4M141.28 570.9v2.4M141.28 798.1v-2.4M143.76 570.9v2.4M143.76 798.1v-2.4M145.86 570.9v2.4M145.86 798.1v-2.4M147.67 570.9v2.4M147.67 798.1v-2.4M149.27 570.9v2.4M149.27 798.1v-2.4M150.7 570.9v4.3M150.7 798.1v-4.3M160.12 570.9v2.4M160.12 798.1v-2.4M165.63 570.9v2.4M165.63 798.1v-2.4M169.54 570.9v2.4M169.54 798.1v-2.4M172.57 570.9v2.4M172.57 798.1v-2.4M175.04 570.9v2.4M175.04 798.1v-2.4M177.14 570.9v2.4M177.14 798.1v-2.4M178.95 570.9v2.4M178.95 798.1v-2.4M180.55 570.9v2.4M180.55 798.1v-2.4M181.98 570.9v4.3M181.98 798.1v-4.3M191.4 570.9v2.4M191.4 798.1v-2.4M40.5 798.1h-4.3M191.4 798.1h-4.3M40.5 789.01h-2.4M191.4 789.01h-2.4M40.5 779.92h-4.3M191.4 779.92h-4.3M40.5 770.84h-2.4M191.4 770.84h-2.4M40.5 761.75h-4.3M191.4 761.75h-4.3M40.5 752.66h-2.4M191.4 752.66h-2.4M40.5 743.57h-4.3M191.4 743.57h-4.3M40.5 734.48h-2.4M191.4 734.48h-2.4M40.5 725.4h-4.3M191.4 725.4h-4.3M40.5 716.31h-2.4M191.4 716.31h-2.4M40.5 707.22h-4.3M191.4 707.22h-4.3M40.5 698.13h-2.4M191.4 698.13h-2.4M40.5 689.04h-4.3M191.4 689.04h-4.3M40.5 679.96h-2.4M191.4 679.96h-2.4M40.5 670.87h-4.3M191.4 670.87h-4.3M40.5 661.78h-2.4M191.4 661.78h-2.4M40.5 652.69h-4.3M191.4 652.69h-4.3M40.5 643.6h-2.4M191.4 643.6h-2.4M40.5 634.52h-4.3M191.4 634.52h-4.3M40.5 625.43h-2.4M191.4 625.43h-2.4M40.5 616.34h-4.3M191.4 616.34h-4.3M40.5 607.25h-2.4M191.4 607.25h-2.4M40.5 598.16h-4.3M191.4 598.16h-4.3M40.5 589.08h-2.4M191.4 589.08h-2.4M40.5 579.99h-4.3M191.4 579.99h-4.3M40.5 570.9h-2.4M191.4 570.9h-2.4" fill="none" stroke="#1a1a1a" stroke-width="1"/>
<text x="56.86" y="563.7" text-anchor="middle">1E-4</text>
<text x="88.14" y="563.7" text-anchor="middle">1E-3</text>
<text x="119.42" y="563.7" text-anchor="middle">0.01</text>
<text x="150.7" y="563.7" text-anchor="middle">0.1</text>
<text x="181.98" y="563.7" text-anchor="middle">1</text>
<text transform="translate(13 684.5) rotate(-90)" font-size="8.7" text-anchor="middle"><tspan font-style="italic" font-size="9.8">M</tspan><tspan font-size="5.6" dy="2.8" style="stroke-width:0.06px">cum</tspan><tspan dy="-2.8"> (</tspan><tspan font-style="italic">m</tspan><tspan font-size="5.6" dy="2.8" font-style="italic" style="stroke-width:0.06px">t</tspan><tspan dy="-2.8">)</tspan></text>
</g>
<g>
<polyline class="d" points="268.36,597.58 270.61,598.51 272.61,599.36 274.4,600.2 276,601.02 277.47,601.78 278.82,602.51 280.07,603.21 281.22,603.88 282.3,604.53 283.29,605.17 284.23,605.78 285.11,606.37 285.94,606.95 286.73,607.5 287.48,608.04 288.19,608.56 288.88,609.06 289.53,609.54 290.16,610.01 290.76,610.46 291.33,610.9 291.89,611.32 292.44,611.76 293,612.19 293.54,612.62 294.09,613.06 294.64,613.5 295.18,613.94 295.72,614.38 296.27,614.82 296.81,615.27 297.35,615.71 297.89,616.16 298.43,616.6 298.97,617.05 299.51,617.49 300.05,617.93 300.6,618.37 301.14,618.82 301.68,619.26 302.21,619.72 302.74,620.17 303.26,620.64 303.77,621.12 304.27,621.61 304.75,622.12 305.22,622.64 305.66,623.18 306.1,623.73 306.51,624.3 306.91,624.87 307.31,625.44 307.7,626.03 308.09,626.6 308.49,627.18 308.89,627.76 309.28,628.33 309.68,628.91 310.07,629.5 310.45,630.08 310.84,630.66 311.22,631.25 311.61,631.83 311.99,632.42 312.38,633 312.76,633.59 313.16,634.17 313.55,634.75 313.94,635.32 314.34,635.9 314.73,636.48 315.13,637.06 315.51,637.64 315.9,638.23 316.27,638.82 316.65,639.41 317.02,640 317.38,640.6 317.75,641.2 318.12,641.79 318.48,642.39 318.83,643 319.18,643.6 319.53,644.21 319.86,644.83 320.18,645.45 320.49,646.08 320.79,646.71 321.07,647.35 321.35,647.99 321.6,648.65 321.85,649.3 322.09,649.96 322.33,650.62 322.56,651.28 322.79,651.94 323.02,652.6 323.25,653.26 323.49,653.92 323.73,654.57 323.98,655.23 324.23,655.88 324.48,656.54 324.73,657.19 324.98,657.84 325.24,658.5 325.49,659.15 325.74,659.8 325.98,660.46 326.22,661.12 326.45,661.78 326.68,662.44 326.91,663.1 327.13,663.76 327.35,664.43 327.57,665.09 327.78,665.76 327.99,666.43 328.2,667.1 328.4,667.77 328.58,668.44 328.77,669.12 328.94,669.8 329.11,670.48 329.27,671.16 329.41,671.84 329.55,672.53 329.67,673.22 329.8,673.91 329.91,674.6 330.03,675.29 330.14,675.98 330.25,676.67 330.36,677.36 330.48,678.05 330.59,678.74 330.72,679.43 330.86,680.12 331.01,680.8 331.19,681.48 331.38,682.15 331.56,682.83 331.7,683.51 331.81,684.2 331.91,684.9 331.99,685.59 332.07,686.29 332.14,686.98 332.21,687.68 332.29,688.38 332.36,689.07 332.45,689.77 332.54,690.46 332.64,691.15 332.76,691.84 332.89,692.53 333.03,693.22 333.18,693.9 333.34,694.58 333.51,695.26 333.68,695.94 333.86,696.62 334.04,697.29 334.22,697.97 334.41,698.64 334.59,699.32 334.78,699.99 334.97,700.67 335.16,701.34 335.36,702.01 335.56,702.68 335.76,703.35 335.97,704.02 336.17,704.69 336.38,705.36 336.59,706.03 336.79,706.7 336.99,707.37 337.19,708.04 337.39,708.71 337.59,709.38 337.79,710.05 337.98,710.72 338.18,711.4 338.38,712.07 338.58,712.74 338.77,713.41 338.97,714.08 339.16,714.76 339.35,715.43 339.54,716.1 339.72,716.78 339.91,717.45 340.09,718.13 340.27,718.81 340.45,719.48 340.63,720.16 340.81,720.84 340.99,721.51 341.15,722.19 341.32,722.87 341.48,723.55 341.63,724.24 341.78,724.92 341.9,725.61 342.01,726.3 342.09,727 342.16,727.69 342.22,728.39 342.28,729.09 342.34,729.79 342.42,730.48 342.53,731.17 342.71,731.85 343.03,732.45 343.62,732.74 344.31,732.66 345,732.59 345.59,732.9 345.93,733.5 346.12,734.17 346.24,734.86 346.35,735.55 346.43,736.25 346.5,736.94 346.55,737.64 346.6,738.34 346.65,739.04 346.7,739.74 346.74,740.44 346.79,741.13 346.84,741.83 346.89,742.53 346.94,743.23 347,743.93 347.04,744.62 347.08,745.32 347.12,746.02 347.16,746.72 347.2,747.42 347.23,748.12 347.27,748.82 347.31,749.52 347.35,750.22 347.39,750.91 347.43,751.61 347.48,752.31 347.52,753.01 347.57,753.71 347.62,754.41 347.67,755.1 347.72,755.8 347.78,756.5 347.83,757.2 347.89,757.9 347.94,758.59 348,759.29 348.06,759.99 348.12,760.69 348.18,761.38 348.25,762.08 348.32,762.78 348.39,763.47 348.46,764.17 348.53,764.87 348.6,765.56 348.68,766.26 348.76,766.95 348.84,767.65 348.94,768.34 349.04,769.04 349.15,769.73 349.27,770.42 349.43,771.1 349.6,771.78 349.8,772.45 350.02,773.11 350.25,773.77 350.49,774.43 350.74,775.09 350.9,775.56" marker-start="url(#m10)" marker-mid="url(#m10)" marker-end="url(#m10)"/>
<polyline class="d" points="226.08,589.73 240.17,590.54 248.63,591.74 254.27,592.95 258.69,594.16 262.32,595.17 265.34,596.17" marker-start="url(#m10)" marker-mid="url(#m10)" marker-end="url(#m10)"/>
<polyline points="226.08,596.78 227.61,596.88 229.73,597.01 232.25,597.17 234.95,597.35 237.66,597.56 240.17,597.78 242.54,598.03 244.94,598.3 247.35,598.59 249.72,598.9 252.03,599.24 254.27,599.6 256.4,599.97 258.44,600.36 260.43,600.77 262.39,601.21 264.36,601.69 266.35,602.21 268.38,602.8 270.45,603.45 272.51,604.14 274.55,604.84 276.53,605.55 278.43,606.24 280.27,606.91 282.08,607.57 283.84,608.23 285.51,608.89 287.07,609.57 288.49,610.27 289.71,610.96 290.73,611.63 291.64,612.32 292.52,613.04 293.45,613.82 294.53,614.69 295.76,615.63 297.07,616.62 298.43,617.66 299.83,618.79 301.22,620.01 302.58,621.34 303.95,622.83 305.34,624.48 306.74,626.22 308.1,628 309.41,629.75 310.64,631.41 311.77,632.96 312.84,634.46 313.85,635.94 314.81,637.41 315.75,638.91 316.68,640.47 317.59,642.08 318.47,643.75 319.32,645.44 320.15,647.14 320.94,648.84 321.71,650.53 322.45,652.21 323.16,653.89 323.85,655.56 324.51,657.24 325.14,658.92 325.74,660.6 326.31,662.29 326.85,663.99 327.36,665.69 327.85,667.38 328.31,669.04 328.76,670.66 329.18,672.29 329.59,673.94 329.98,675.56 330.34,677.1 330.67,678.51 330.97,679.72 331.22,680.64 331.4,681.28 331.55,681.78 331.71,682.29 331.91,682.97 332.18,683.95 332.53,685.27 332.94,686.8 333.39,688.49 333.86,690.3 334.33,692.16 334.8,694.02 335.25,695.92 335.71,697.9 336.18,699.93 336.65,702 337.13,704.06 337.62,706.1 338.11,708.11 338.63,710.12 339.15,712.14 339.67,714.15 340.17,716.16 340.64,718.18 341.07,720.17 341.48,722.13 341.87,724.09 342.25,726.08 342.64,728.13 343.05,730.26 343.49,732.51 343.94,734.88 344.4,737.3 344.85,739.73 345.28,742.1 345.67,744.35 346.02,746.48 346.33,748.53 346.63,750.52 346.91,752.48 347.19,754.44 347.48,756.43 347.79,758.49 348.09,760.61 348.4,762.72 348.7,764.78 349,766.73 349.29,768.51 349.59,770.18 349.9,771.79 350.21,773.29 350.49,774.62 350.73,775.73 350.9,776.56" fill="none" stroke="#ff2020" stroke-width="0.65"/>
<polyline class="d" points="311.5,587 311.5,587" marker-start="url(#m10)"/>
<text x="324.5" y="590.4" font-size="9.45" textLength="29.7">14Okt-2</text>
<text x="369.9" y="793.07">-100</text>
<text x="369.9" y="778.41">0</text>
<text x="369.9" y="763.75">100</text>
<text x="369.9" y="749.1">200</text>
<text x="369.9" y="734.44">300</text>
<text x="369.9" y="719.78">400</text>
<text x="369.9" y="705.12">500</text>
<text x="369.9" y="690.46">600</text>
<text x="369.9" y="675.81">700</text>
<text x="369.9" y="661.15">800</text>
<text x="369.9" y="646.49">900</text>
<text x="369.9" y="631.83">1000</text>
<text x="369.9" y="617.17">1100</text>
<text x="369.9" y="602.52">1200</text>
<text x="369.9" y="587.86">1300</text>
<text x="369.9" y="573.2">1400</text>
<path d="M214.8 570.9H365.6V798.1H214.8ZM214.8 570.9v2.4M214.8 798.1v-2.4M218.71 570.9v2.4M218.71 798.1v-2.4M221.74 570.9v2.4M221.74 798.1v-2.4M224.21 570.9v2.4M224.21 798.1v-2.4M226.3 570.9v2.4M226.3 798.1v-2.4M228.12 570.9v2.4M228.12 798.1v-2.4M229.72 570.9v2.4M229.72 798.1v-2.4M231.15 570.9v4.3M231.15 798.1v-4.3M240.56 570.9v2.4M240.56 798.1v-2.4M246.06 570.9v2.4M246.06 798.1v-2.4M249.97 570.9v2.4M249.97 798.1v-2.4M253 570.9v2.4M253 798.1v-2.4M255.47 570.9v2.4M255.47 798.1v-2.4M257.56 570.9v2.4M257.56 798.1v-2.4M259.38 570.9v2.4M259.38 798.1v-2.4M260.98 570.9v2.4M260.98 798.1v-2.4M262.41 570.9v4.3M262.41 798.1v-4.3M271.82 570.9v2.4M271.82 798.1v-2.4M277.32 570.9v2.4M277.32 798.1v-2.4M281.23 570.9v2.4M281.23 798.1v-2.4M284.26 570.9v2.4M284.26 798.1v-2.4M286.73 570.9v2.4M286.73 798.1v-2.4M288.83 570.9v2.4M288.83 798.1v-2.4M290.64 570.9v2.4M290.64 798.1v-2.4M292.24 570.9v2.4M292.24 798.1v-2.4M293.67 570.9v4.3M293.67 798.1v-4.3M303.08 570.9v2.4M303.08 798.1v-2.4M308.58 570.9v2.4M308.58 798.1v-2.4M312.49 570.9v2.4M312.49 798.1v-2.4M315.52 570.9v2.4M315.52 798.1v-2.4M317.99 570.9v2.4M317.99 798.1v-2.4M320.09 570.9v2.4M320.09 798.1v-2.4M321.9 570.9v2.4M321.9 798.1v-2.4M323.5 570.9v2.4M323.5 798.1v-2.4M324.93 570.9v4.3M324.93 798.1v-4.3M334.34 570.9v2.4M334.34 798.1v-2.4M339.84 570.9v2.4M339.84 798.1v-2.4M343.75 570.9v2.4M343.75 798.1v-2.4M346.78 570.9v2.4M346.78 798.1v-2.4M349.25 570.9v2.4M349.25 798.1v-2.4M351.35 570.9v2.4M351.35 798.1v-2.4M353.16 570.9v2.4M353.16 798.1v-2.4M354.76 570.9v2.4M354.76 798.1v-2.4M356.19 570.9v4.3M356.19 798.1v-4.3M365.6 570.9v2.4M365.6 798.1v-2.4M214.8 798.1h2.4M365.6 798.1h-2.4M214.8 790.77h4.3M365.6 790.77h-4.3M214.8 783.44h2.4M365.6 783.44h-2.4M214.8 776.11h4.3M365.6 776.11h-4.3M214.8 768.78h2.4M365.6 768.78h-2.4M214.8 761.45h4.3M365.6 761.45h-4.3M214.8 754.13h2.4M365.6 754.13h-2.4M214.8 746.8h4.3M365.6 746.8h-4.3M214.8 739.47h2.4M365.6 739.47h-2.4M214.8 732.14h4.3M365.6 732.14h-4.3M214.8 724.81h2.4M365.6 724.81h-2.4M214.8 717.48h4.3M365.6 717.48h-4.3M214.8 710.15h2.4M365.6 710.15h-2.4M214.8 702.82h4.3M365.6 702.82h-4.3M214.8 695.49h2.4M365.6 695.49h-2.4M214.8 688.16h4.3M365.6 688.16h-4.3M214.8 680.84h2.4M365.6 680.84h-2.4M214.8 673.51h4.3M365.6 673.51h-4.3M214.8 666.18h2.4M365.6 666.18h-2.4M214.8 658.85h4.3M365.6 658.85h-4.3M214.8 651.52h2.4M365.6 651.52h-2.4M214.8 644.19h4.3M365.6 644.19h-4.3M214.8 636.86h2.4M365.6 636.86h-2.4M214.8 629.53h4.3M365.6 629.53h-4.3M214.8 622.2h2.4M365.6 622.2h-2.4M214.8 614.87h4.3M365.6 614.87h-4.3M214.8 607.55h2.4M365.6 607.55h-2.4M214.8 600.22h4.3M365.6 600.22h-4.3M214.8 592.89h2.4M365.6 592.89h-2.4M214.8 585.56h4.3M365.6 585.56h-4.3M214.8 578.23h2.4M365.6 578.23h-2.4M214.8 570.9h4.3M365.6 570.9h-4.3" fill="none" stroke="#1a1a1a" stroke-width="1"/>
<text x="231.15" y="563.7" text-anchor="middle">1E-4</text>
<text x="262.41" y="563.7" text-anchor="middle">1E-3</text>
<text x="293.67" y="563.7" text-anchor="middle">0.01</text>
<text x="324.93" y="563.7" text-anchor="middle">0.1</text>
<text x="356.19" y="563.7" text-anchor="middle">1</text>
</g>
<g>
<polyline class="d" points="442.94,607.17 445.41,608.61 447.64,609.93 449.65,611.15 451.49,612.29 453.19,613.35 454.76,614.35 456.21,615.31 457.54,616.25 458.76,617.19 459.86,618.13 460.88,619.06 461.83,619.96 462.73,620.82 463.61,621.64 464.46,622.39 465.29,623.1 466.09,623.79 466.87,624.43 467.63,625.04 468.37,625.61 469.11,626.14 469.85,626.61 470.59,627.02 471.34,627.38 472.07,627.69 472.78,628.01 473.45,628.34 474.09,628.7 474.68,629.1 475.22,629.54 475.75,630 476.26,630.48 476.74,630.99 477.21,631.51 477.66,632.04 478.09,632.6 478.5,633.16 478.91,633.73 479.28,634.33 479.63,634.93 479.96,635.55 480.28,636.17 480.58,636.8 480.88,637.44 481.17,638.07 481.45,638.71 481.74,639.35 482.03,639.99 482.32,640.62 482.61,641.26 482.89,641.9 483.16,642.55 483.43,643.19 483.71,643.84 483.98,644.48 484.25,645.13 484.53,645.77 484.82,646.41 485.1,647.05 485.37,647.7 485.64,648.34 485.91,648.99 486.2,649.62 486.51,650.25 486.86,650.86 487.24,651.45 487.66,652 488.11,652.54 488.58,653.05 489.08,653.55 489.59,654.03 490.11,654.5 490.63,654.96 491.16,655.42 491.69,655.88 492.24,656.31 492.81,656.72 493.38,657.12 493.96,657.51 494.53,657.93 495.08,658.35 495.62,658.8 496.13,659.28 496.63,659.77 497.11,660.28 497.6,660.78 498.08,661.29 498.56,661.8 499.04,662.31 499.54,662.8 500.03,663.3 500.55,663.76 501.09,664.21 501.66,664.62 502.25,664.99 502.86,665.34 503.47,665.67 504.08,666.02 504.68,666.38 505.25,666.79 505.76,667.26 506.22,667.79 506.62,668.37 506.95,668.98 507.23,669.62 507.47,670.28 507.67,670.95 507.82,671.63 507.97,672.32 508.09,673.01 508.2,673.7 508.29,674.39 508.37,675.09 508.43,675.78 508.48,676.48 508.51,677.18 508.55,677.88 508.58,678.58 508.6,679.28 508.63,679.98 508.65,680.68 508.68,681.38 508.7,682.08 508.74,682.78 508.78,683.48 508.82,684.17 508.86,684.87 508.91,685.57 508.95,686.27 509,686.97 509.05,687.67 509.09,688.37 509.14,689.06 509.19,689.76 509.23,690.46 509.28,691.16 509.33,691.86 509.37,692.56 509.42,693.25 509.47,693.95 509.52,694.65 509.56,695.35 509.61,696.05 509.66,696.75 509.7,697.45 509.75,698.14 509.8,698.84 509.84,699.54 509.89,700.24 509.94,700.94 509.98,701.64 510.03,702.33 510.07,703.03 510.12,703.73 510.17,704.43 510.21,705.13 510.26,705.83 510.31,706.52 510.35,707.22 510.4,707.92 510.45,708.62 510.49,709.32 510.54,710.02 510.59,710.72 510.63,711.41 510.68,712.11 510.72,712.81 510.77,713.51 510.81,714.21 510.86,714.91 510.9,715.61 510.95,716.3 510.99,717 511.04,717.7 511.09,718.4 511.14,719.1 511.18,719.8 511.23,720.49 511.28,721.19 511.34,721.89 511.39,722.59 511.44,723.29 511.5,723.98 511.56,724.68 511.61,725.38 511.67,726.08 511.73,726.77 511.79,727.47 511.85,728.17 511.91,728.87 511.97,729.56 512.03,730.26 512.09,730.96 512.14,731.57" marker-start="url(#m11)" marker-mid="url(#m11)" marker-end="url(#m11)"/>
<polyline class="d" points="400.5,597.76 414.51,598.6 422.87,599.85 428.51,601.32 433.11,602.99 437.09,604.45 440.43,605.92 527.41,731.99 527.83,735.12 528.03,738.26 528.24,742.44 528.45,746.62 528.45,750.8 528.66,754.98 528.66,759.17 528.66,763.35 528.66,767.53 528.66,771.71 528.87,775.89 528.87,780.07 527.62,733.45 528.03,736.59 528.24,740.35 528.45,744.53 528.45,748.71 528.66,752.89 528.66,757.08 528.66,761.26 528.66,765.44 528.66,769.62 528.66,773.8 528.87,777.98" marker-start="url(#m11)" marker-mid="url(#m11)" marker-end="url(#m11)"/>
<polyline points="400.5,596.51 401.97,596.83 403.98,597.26 406.38,597.77 408.98,598.36 411.61,598.99 414.09,599.64 416.47,600.33 418.89,601.07 421.34,601.85 423.81,602.68 426.27,603.55 428.72,604.45 431.19,605.4 433.68,606.4 436.17,607.43 438.64,608.5 441.04,609.6 443.36,610.72 445.57,611.85 447.7,612.97 449.76,614.12 451.8,615.33 453.84,616.63 455.9,618.04 458.02,619.58 460.16,621.22 462.31,622.94 464.42,624.74 466.48,626.6 468.45,628.5 470.32,630.45 472.13,632.48 473.87,634.57 475.57,636.7 477.24,638.86 478.9,641.04 480.54,643.23 482.15,645.45 483.74,647.7 485.29,649.98 486.81,652.29 488.31,654.63 489.78,657 491.21,659.39 492.62,661.82 494,664.27 495.35,666.75 496.67,669.26 497.97,671.81 499.23,674.38 500.46,676.97 501.67,679.6 502.84,682.26 503.99,684.95 505.11,687.67 506.2,690.44 507.26,693.24 508.29,696.06 509.29,698.87 510.26,701.67 511.21,704.47 512.12,707.29 513.01,710.1 513.86,712.9 514.69,715.67 515.49,718.4 516.25,721.03 516.96,723.59 517.65,726.11 518.32,728.66 518.99,731.29 519.67,734.08 520.38,737.06 521.1,740.19 521.83,743.42 522.54,746.66 523.22,749.84 523.85,752.89 524.46,755.9 525.04,758.93 525.59,761.91 526.11,764.74 526.57,767.34 526.99,769.62 527.35,771.59 527.65,773.34 527.92,774.85 528.13,776.12 528.31,777.17 528.45,777.98" fill="none" stroke="#ff2020" stroke-width="0.65"/>
<polyline class="d" points="487.3,588 487.3,588" marker-start="url(#m11)"/>
<text x="499.5" y="591.4" font-size="9.45">9Okt-3</text>
<text x="544.3" y="785.25">0</text>
<text x="544.3" y="754.96">100</text>
<text x="544.3" y="724.67">200</text>
<text x="544.3" y="694.37">300</text>
<text x="544.3" y="664.08">400</text>
<text x="544.3" y="633.79">500</text>
<text x="544.3" y="603.49">600</text>
<text x="544.3" y="573.2">700</text>
<path d="M389.6 570.9H540V798.1H389.6ZM389.6 570.9v2.4M389.6 798.1v-2.4M393.5 570.9v2.4M393.5 798.1v-2.4M396.52 570.9v2.4M396.52 798.1v-2.4M398.99 570.9v2.4M398.99 798.1v-2.4M401.07 570.9v2.4M401.07 798.1v-2.4M402.88 570.9v2.4M402.88 798.1v-2.4M404.48 570.9v2.4M404.48 798.1v-2.4M405.9 570.9v4.3M405.9 798.1v-4.3M415.29 570.9v2.4M415.29 798.1v-2.4M420.78 570.9v2.4M420.78 798.1v-2.4M424.67 570.9v2.4M424.67 798.1v-2.4M427.69 570.9v2.4M427.69 798.1v-2.4M430.16 570.9v2.4M430.16 798.1v-2.4M432.25 570.9v2.4M432.25 798.1v-2.4M434.06 570.9v2.4M434.06 798.1v-2.4M435.65 570.9v2.4M435.65 798.1v-2.4M437.08 570.9v4.3M437.08 798.1v-4.3M446.47 570.9v2.4M446.47 798.1v-2.4M451.96 570.9v2.4M451.96 798.1v-2.4M455.85 570.9v2.4M455.85 798.1v-2.4M458.87 570.9v2.4M458.87 798.1v-2.4M461.34 570.9v2.4M461.34 798.1v-2.4M463.43 570.9v2.4M463.43 798.1v-2.4M465.24 570.9v2.4M465.24 798.1v-2.4M466.83 570.9v2.4M466.83 798.1v-2.4M468.26 570.9v4.3M468.26 798.1v-4.3M477.64 570.9v2.4M477.64 798.1v-2.4M483.13 570.9v2.4M483.13 798.1v-2.4M487.03 570.9v2.4M487.03 798.1v-2.4M490.05 570.9v2.4M490.05 798.1v-2.4M492.52 570.9v2.4M492.52 798.1v-2.4M494.61 570.9v2.4M494.61 798.1v-2.4M496.41 570.9v2.4M496.41 798.1v-2.4M498.01 570.9v2.4M498.01 798.1v-2.4M499.44 570.9v4.3M499.44 798.1v-4.3M508.82 570.9v2.4M508.82 798.1v-2.4M514.31 570.9v2.4M514.31 798.1v-2.4M518.21 570.9v2.4M518.21 798.1v-2.4M521.23 570.9v2.4M521.23 798.1v-2.4M523.7 570.9v2.4M523.7 798.1v-2.4M525.78 570.9v2.4M525.78 798.1v-2.4M527.59 570.9v2.4M527.59 798.1v-2.4M529.19 570.9v2.4M529.19 798.1v-2.4M530.61 570.9v4.3M530.61 798.1v-4.3M540 570.9v2.4M540 798.1v-2.4M389.6 798.1h2.4M540 798.1h-2.4M389.6 782.95h4.3M540 782.95h-4.3M389.6 767.81h2.4M540 767.81h-2.4M389.6 752.66h4.3M540 752.66h-4.3M389.6 737.51h2.4M540 737.51h-2.4M389.6 722.37h4.3M540 722.37h-4.3M389.6 707.22h2.4M540 707.22h-2.4M389.6 692.07h4.3M540 692.07h-4.3M389.6 676.93h2.4M540 676.93h-2.4M389.6 661.78h4.3M540 661.78h-4.3M389.6 646.63h2.4M540 646.63h-2.4M389.6 631.49h4.3M540 631.49h-4.3M389.6 616.34h2.4M540 616.34h-2.4M389.6 601.19h4.3M540 601.19h-4.3M389.6 586.05h2.4M540 586.05h-2.4M389.6 570.9h4.3M540 570.9h-4.3" fill="none" stroke="#1a1a1a" stroke-width="1"/>
<text x="405.9" y="563.7" text-anchor="middle">1E-4</text>
<text x="437.08" y="563.7" text-anchor="middle">1E-3</text>
<text x="468.26" y="563.7" text-anchor="middle">0.01</text>
<text x="499.44" y="563.7" text-anchor="middle">0.1</text>
<text x="530.61" y="563.7" text-anchor="middle">1</text>
</g>
<g>
<polyline class="d" points="627.81,606.96 629.6,608.53 631.2,609.98 632.63,611.33 633.93,612.58 635.12,613.76 636.21,614.87 637.21,615.94 638.12,616.96 638.95,617.95 639.73,618.89 640.46,619.79 641.15,620.65 641.82,621.46 642.46,622.23 643.07,622.97 643.66,623.68 644.24,624.37 644.82,625.07 645.39,625.76 645.97,626.45 646.54,627.14 647.12,627.83 647.67,628.5" marker-start="url(#m12)" marker-mid="url(#m12)" marker-end="url(#m12)"/>
<polyline points="647.67,628.5 648.55,629.72 649.42,630.94 650.29,632.16 651.16,633.38 652.03,634.6 652.91,635.82 653.77,637.05 654.61,638.29 655.46,639.52 656.32,640.75 657.21,641.96 658.14,643.14 659.13,644.26 660.18,645.33 661.27,646.37 662.36,647.4 663.44,648.44 664.55,649.44 665.69,650.41 666.75,651.48 667.62,652.69 668.31,654.02 668.91,655.4 669.43,656.81 669.92,658.22 670.4,659.65 670.84,661.08 671.25,662.52 671.61,663.98 671.95,665.44 672.28,666.9 672.6,668.37 672.88,669.84 673.15,671.32 673.42,672.79 673.72,674.26 674.06,675.72 674.42,677.18 674.78,678.64 675.16,680.09 675.59,681.53 676.1,682.93 676.75,684.28 677.57,685.54 678.53,686.69 679.61,687.73 680.73,688.73 681.99,689.53 683.36,690.15 684.6,690.97 685.61,692.08 686.47,693.31 687.24,694.59 687.96,695.91 688.62,697.25 689.23,698.62 689.8,700.01 690.33,701.41 690.86,702.82 691.37,704.18" fill="none" stroke="#18a0a0" stroke-opacity="0.6" stroke-width="3.0" stroke-linejoin="round" stroke-linecap="butt"/>
<polyline class="d" points="647.67,628.5 648.08,629.06 648.49,629.63 648.9,630.2 649.3,630.77 649.71,631.34 650.12,631.91 650.52,632.48 650.93,633.05 651.34,633.62 651.74,634.19 652.15,634.76 652.56,635.33 652.96,635.9 653.36,636.47 653.77,637.05 654.16,637.63 654.56,638.2 654.95,638.78 655.35,639.36 655.75,639.93 656.15,640.51 656.56,641.08 656.97,641.64 657.39,642.2 657.83,642.75 658.27,643.29 658.73,643.82 659.2,644.33 659.69,644.84 660.18,645.33 660.68,645.82 661.19,646.3 661.7,646.78 662.21,647.26 662.72,647.74 663.22,648.23 663.73,648.71 664.25,649.18 664.78,649.64 665.32,650.09 665.84,650.55 666.35,651.03 666.82,651.55 667.24,652.11 667.62,652.69 667.96,653.31 668.27,653.93 668.56,654.57 668.83,655.22 669.09,655.87 669.33,656.52 669.57,657.18 669.8,657.84 670.02,658.51 670.24,659.17 670.46,659.84 670.67,660.51 670.87,661.18 671.06,661.85 671.25,662.52 671.42,663.2 671.59,663.88 671.75,664.56 671.91,665.24 672.06,665.93 672.22,666.61 672.37,667.29 672.52,667.98 672.66,668.66 672.79,669.35 672.92,670.04 673.04,670.73 673.17,671.42 673.29,672.11 673.42,672.79 673.56,673.48 673.7,674.17 673.86,674.85 674.02,675.53 674.18,676.21 674.35,676.89 674.51,677.57 674.68,678.25 674.85,678.93 675.03,679.61 675.22,680.28 675.41,680.95 675.62,681.62 675.85,682.28 676.1,682.93 676.38,683.57 676.7,684.2 677.05,684.8 677.45,685.38 677.87,685.94 678.33,686.46 678.81,686.97 679.31,687.46 679.83,687.93 680.35,688.4 680.89,688.84 681.46,689.25 682.08,689.58 682.72,689.86 683.36,690.15 683.97,690.49 684.53,690.9 685.04,691.39 685.49,691.92 685.91,692.48 686.31,693.06 686.68,693.64 687.04,694.25 687.39,694.85 687.72,695.47 688.05,696.09 688.37,696.71 688.67,697.34 688.96,697.98 689.23,698.62 689.5,699.27 689.76,699.92 690.01,700.57 690.26,701.23 690.51,701.88 690.75,702.54 691,703.2 691.25,703.85 691.37,704.18" marker-start="url(#m12)" marker-mid="url(#m12)" marker-end="url(#m12)"/>
<polyline class="d" points="691.37,704.18 691.74,705.37 692.12,706.56 692.49,707.76 692.85,708.96 693.18,710.16 693.48,711.38 693.74,712.6 693.97,713.83 694.19,715.06 694.39,716.29 694.59,717.53 694.78,718.76 694.98,719.99 695.18,721.23 695.39,722.46 695.58,723.7 695.77,724.93 695.94,726.17 696.1,727.41 696.25,728.65 696.38,729.89 696.49,731.14 696.6,732.38 696.7,733.63 696.8,734.88 696.9,736.12 697,737.37 697.09,738.61 697.19,739.86 697.28,741.11 697.36,742.35 697.46,743.6 697.55,744.85 697.66,746.09 697.78,747.34 697.91,748.58 698.05,749.82 698.2,751.06 698.35,752.3 698.51,753.54 698.66,754.78 698.82,756.02 698.9,756.66" marker-start="url(#m12)" marker-mid="url(#m12)" marker-end="url(#m12)"/>
<polyline points="698.9,756.66 699.12,758.14 699.34,759.62 699.57,761.11 699.79,762.59 700.03,764.07 700.27,765.55 700.53,767.03 700.8,768.5 701.08,769.98 701.37,771.45 701.68,772.92 702.02,774.38 702.44,775.82 702.93,777.24 703.48,778.63 703.71,779.24" fill="none" stroke="#18a0a0" stroke-opacity="0.5" stroke-width="3.0" stroke-linejoin="round" stroke-linecap="butt"/>
<polyline class="d" points="698.9,756.66 699,757.35 699.11,758.04 699.21,758.73 699.31,759.43 699.42,760.12 699.52,760.81 699.63,761.5 699.73,762.19 699.84,762.89 699.95,763.58 700.06,764.27 700.17,764.96 700.29,765.65 700.41,766.34 700.53,767.03 700.66,767.72 700.78,768.41 700.91,769.09 701.04,769.78 701.17,770.47 701.31,771.16 701.45,771.84 701.6,772.53 701.74,773.21 701.91,773.89 702.07,774.57 702.26,775.25 702.47,775.91 702.69,776.58 702.93,777.24 703.18,777.89 703.44,778.54 703.69,779.19 703.71,779.24" marker-start="url(#m12)" marker-mid="url(#m12)" marker-end="url(#m12)"/>
<polyline class="d" points="575.96,586.68 591.64,589.4 600.63,591.91 607.11,594.63 612.34,597.13 616.52,599.43 619.87,601.52 622.8,603.41 625.3,605.08" marker-start="url(#m12)" marker-mid="url(#m12)" marker-end="url(#m12)"/>
<polyline points="575.96,607.59 577.73,607.73 580.18,607.92 583.07,608.15 586.2,608.42 589.34,608.72 592.27,609.05 595.03,609.41 597.81,609.81 600.61,610.24 603.41,610.71 606.2,611.22 609,611.77 611.81,612.36 614.65,612.98 617.49,613.64 620.3,614.35 623.06,615.12 625.72,615.95 628.31,616.84 630.83,617.77 633.3,618.76 635.71,619.82 638.06,620.97 640.36,622.22 642.59,623.57 644.77,625.01 646.89,626.54 648.95,628.15 650.96,629.85 652.9,631.63 654.78,633.5 656.58,635.46 658.32,637.5 660.02,639.64 661.69,641.86 663.36,644.18 665.05,646.64 666.76,649.26 668.44,651.98 670.05,654.72 671.55,657.41 672.89,660 674.03,662.48 674.99,664.89 675.84,667.26 676.63,669.61 677.42,671.96 678.26,674.32 679.17,676.74 680.1,679.18 681.02,681.62 681.93,684.03 682.81,686.38 683.64,688.62 684.41,690.75 685.13,692.78 685.83,694.74 686.5,696.67 687.15,698.6 687.8,700.56 688.44,702.55 689.06,704.54 689.67,706.52 690.26,708.51 690.84,710.49 691.39,712.48 691.93,714.47 692.46,716.46 692.97,718.45 693.46,720.44 693.92,722.43 694.36,724.42 694.77,726.41 695.14,728.39 695.5,730.38 695.84,732.36 696.17,734.35 696.51,736.34 696.86,738.31 697.2,740.27 697.54,742.23 697.87,744.21 698.21,746.22 698.54,748.27 698.88,750.42 699.22,752.64 699.56,754.9 699.9,757.15 700.24,759.32 700.57,761.38 700.9,763.35 701.23,765.27 701.56,767.12 701.88,768.88 702.18,770.55 702.47,772.11 702.76,773.59 703.04,775.03 703.31,776.36 703.56,777.55 703.76,778.54 703.92,779.28" fill="none" stroke="#ff2020" stroke-width="0.65"/>
<polyline class="d" points="657,589.5 657,589.5" marker-start="url(#m12)"/>
<text x="669.5" y="592.9" font-size="9.45" textLength="29.7">15Okt-1</text>
<text x="721.3" y="800.4">-100</text>
<text x="721.3" y="782.22">0</text>
<text x="721.3" y="764.05">100</text>
<text x="721.3" y="745.87">200</text>
<text x="721.3" y="727.7">300</text>
<text x="721.3" y="709.52">400</text>
<text x="721.3" y="691.34">500</text>
<text x="721.3" y="673.17">600</text>
<text x="721.3" y="654.99">700</text>
<text x="721.3" y="636.82">800</text>
<text x="721.3" y="618.64">900</text>
<text x="721.3" y="600.46">1000</text>
<text x="721.3" y="582.29">1100</text>
<path d="M563.6 570.9H714.5V798.1H563.6ZM563.6 570.9v2.4M563.6 798.1v-2.4M567.9 570.9v2.4M567.9 798.1v-2.4M571.24 570.9v2.4M571.24 798.1v-2.4M573.97 570.9v2.4M573.97 798.1v-2.4M576.28 570.9v2.4M576.28 798.1v-2.4M578.27 570.9v2.4M578.27 798.1v-2.4M580.04 570.9v2.4M580.04 798.1v-2.4M581.61 570.9v4.3M581.61 798.1v-4.3M591.98 570.9v2.4M591.98 798.1v-2.4M598.05 570.9v2.4M598.05 798.1v-2.4M602.35 570.9v2.4M602.35 798.1v-2.4M605.69 570.9v2.4M605.69 798.1v-2.4M608.42 570.9v2.4M608.42 798.1v-2.4M610.73 570.9v2.4M610.73 798.1v-2.4M612.73 570.9v2.4M612.73 798.1v-2.4M614.49 570.9v2.4M614.49 798.1v-2.4M616.06 570.9v4.3M616.06 798.1v-4.3M626.43 570.9v2.4M626.43 798.1v-2.4M632.5 570.9v2.4M632.5 798.1v-2.4M636.8 570.9v2.4M636.8 798.1v-2.4M640.14 570.9v2.4M640.14 798.1v-2.4M642.87 570.9v2.4M642.87 798.1v-2.4M645.18 570.9v2.4M645.18 798.1v-2.4M647.18 570.9v2.4M647.18 798.1v-2.4M648.94 570.9v2.4M648.94 798.1v-2.4M650.51 570.9v4.3M650.51 798.1v-4.3M660.88 570.9v2.4M660.88 798.1v-2.4M666.95 570.9v2.4M666.95 798.1v-2.4M671.26 570.9v2.4M671.26 798.1v-2.4M674.59 570.9v2.4M674.59 798.1v-2.4M677.32 570.9v2.4M677.32 798.1v-2.4M679.63 570.9v2.4M679.63 798.1v-2.4M681.63 570.9v2.4M681.63 798.1v-2.4M683.39 570.9v2.4M683.39 798.1v-2.4M684.96 570.9v4.3M684.96 798.1v-4.3M695.34 570.9v2.4M695.34 798.1v-2.4M701.4 570.9v2.4M701.4 798.1v-2.4M705.71 570.9v2.4M705.71 798.1v-2.4M709.04 570.9v2.4M709.04 798.1v-2.4M711.77 570.9v2.4M711.77 798.1v-2.4M714.08 570.9v2.4M714.08 798.1v-2.4M563.6 798.1h4.3M714.5 798.1h4.3M563.6 789.01h2.4M714.5 789.01h2.4M563.6 779.92h4.3M714.5 779.92h4.3M563.6 770.84h2.4M714.5 770.84h2.4M563.6 761.75h4.3M714.5 761.75h4.3M563.6 752.66h2.4M714.5 752.66h2.4M563.6 743.57h4.3M714.5 743.57h4.3M563.6 734.48h2.4M714.5 734.48h2.4M563.6 725.4h4.3M714.5 725.4h4.3M563.6 716.31h2.4M714.5 716.31h2.4M563.6 707.22h4.3M714.5 707.22h4.3M563.6 698.13h2.4M714.5 698.13h2.4M563.6 689.04h4.3M714.5 689.04h4.3M563.6 679.96h2.4M714.5 679.96h2.4M563.6 670.87h4.3M714.5 670.87h4.3M563.6 661.78h2.4M714.5 661.78h2.4M563.6 652.69h4.3M714.5 652.69h4.3M563.6 643.6h2.4M714.5 643.6h2.4M563.6 634.52h4.3M714.5 634.52h4.3M563.6 625.43h2.4M714.5 625.43h2.4M563.6 616.34h4.3M714.5 616.34h4.3M563.6 607.25h2.4M714.5 607.25h2.4M563.6 598.16h4.3M714.5 598.16h4.3M563.6 589.08h2.4M714.5 589.08h2.4M563.6 579.99h4.3M714.5 579.99h4.3M563.6 570.9h2.4M714.5 570.9h2.4" fill="none" stroke="#1a1a1a" stroke-width="1"/>
<text x="581.61" y="563.7" text-anchor="middle">1E-4</text>
<text x="616.06" y="563.7" text-anchor="middle">1E-3</text>
<text x="650.51" y="563.7" text-anchor="middle">0.01</text>
<text x="684.96" y="563.7" text-anchor="middle">0.1</text>
<text transform="translate(748.5 684.5) rotate(-90)" font-size="8.7" text-anchor="middle"><tspan font-style="italic" font-size="9.8">M</tspan><tspan font-size="5.6" dy="2.8" style="stroke-width:0.06px">cum</tspan><tspan dy="-2.8"> (</tspan><tspan font-style="italic">m</tspan><tspan font-size="5.6" dy="2.8" font-style="italic" style="stroke-width:0.06px">t</tspan><tspan dy="-2.8">)</tspan></text>
</g>
<g>
<polyline class="d" points="94.36,851.09 97.1,852.25 99.63,853.35 101.95,854.41 104.11,855.43 106.09,856.47 107.88,857.58 109.51,858.72 111.02,859.86 112.43,860.96 113.77,862.01 115.05,863.03 116.26,864.01 117.4,864.97 118.49,865.91 119.51,866.83 120.49,867.73 121.42,868.61 122.3,869.48 123.15,870.32 123.96,871.15 124.73,871.96 125.47,872.76 126.17,873.55 126.85,874.32 127.5,875.07 128.14,875.81 128.74,876.53 129.33,877.24 129.89,877.94 130.42,878.63 130.94,879.31 131.43,879.99 131.9,880.65 132.35,881.32 132.77,881.97 133.18,882.62 133.56,883.26 133.93,883.89 134.29,884.51 134.64,885.13 134.97,885.73 135.3,886.32 135.62,886.9 135.94,887.48 136.25,888.04 136.55,888.59 136.86,889.13 137.16,889.66 137.45,890.18 137.74,890.71 138.03,891.23 138.31,891.76 138.59,892.29 138.87,892.82 139.15,893.36 139.43,893.88 139.72,894.41 140.01,894.94 140.32,895.45 140.63,895.96 140.97,896.46 141.31,896.95 141.69,897.42 142.08,897.87 142.5,898.3 142.94,898.7 143.4,899.09 143.86,899.48 144.32,899.86 144.77,900.25 145.21,900.67 145.64,901.09 146.03,901.54 146.4,902.02 146.75,902.5 147.07,903.01 147.39,903.52 147.68,904.04 147.98,904.56 148.26,905.09 148.53,905.63 148.8,906.16 149.06,906.7 149.31,907.25 149.56,907.79 149.8,908.34 150.04,908.9 150.27,909.45 150.5,910 150.72,910.56 150.94,911.12 151.16,911.68 151.37,912.24 151.58,912.8 151.79,913.36 151.99,913.93 152.19,914.49 152.39,915.06 152.58,915.63 152.77,916.2 152.95,916.77 153.14,917.34 153.31,917.91 153.49,918.49 153.66,919.06 153.83,919.64 153.99,920.22 154.15,920.79 154.31,921.37 154.46,921.95 154.61,922.54 154.76,923.12 154.89,923.7 155.01,924.29 155.14,924.88 155.26,925.46 155.36,926.05 155.47,926.65 155.57,927.24 155.67,927.83 155.76,928.42 155.85,929.01 155.94,929.61 156.03,930.2 156.11,930.8 156.2,931.39 156.28,931.98 156.37,932.58 156.46,933.17 156.55,933.76 156.64,934.36 156.74,934.95 156.84,935.54 156.94,936.13 157.04,936.72 157.15,937.31 157.25,937.9 157.36,938.49 157.47,939.08 157.57,939.67 157.68,940.26 157.79,940.86 157.9,941.45 158.01,942.04 158.12,942.63 158.23,943.21 158.34,943.8 158.45,944.39 158.56,944.98 158.67,945.57 158.78,946.16 158.89,946.75 158.99,947.34 159.1,947.93 159.21,948.52 159.32,949.11 159.43,949.7 159.54,950.29 159.65,950.88 159.76,951.47 159.87,952.06 159.98,952.65 160.09,953.24 160.2,953.83 160.31,954.42 160.42,955.01 160.52,955.6 160.63,956.19 160.74,956.78 160.85,957.37 160.96,957.96 161.06,958.56 161.17,959.15 161.27,959.74 161.38,960.33 161.48,960.92 161.59,961.51 161.69,962.1 161.8,962.69 161.9,963.28 162,963.87 162.11,964.46 162.21,965.05 162.31,965.65 162.42,966.24 162.52,966.83 162.62,967.42 162.72,968.01 162.82,968.6 162.92,969.19 163.01,969.79 163.11,970.38 163.2,970.97 163.29,971.57 163.38,972.16 163.47,972.75 163.56,973.35 163.63,973.94 163.71,974.54 163.79,975.13 163.86,975.73 163.93,976.32 164,976.92 164.07,977.51 164.14,978.11 164.2,978.71 164.27,979.3 164.33,979.9 164.39,980.5 164.46,981.09 164.52,981.69 164.59,982.29 164.65,982.88 164.72,983.48 164.79,984.07 164.86,984.67 164.94,985.27 165.02,985.86 165.09,986.46 165.17,987.05 165.25,987.65 165.32,988.24 165.39,988.84 165.47,989.43 165.54,990.03 165.62,990.62 165.72,991.21 165.82,991.81 165.94,992.39 166.07,992.98 166.24,993.55 166.43,994.12 166.67,994.67 166.94,995.21 167.27,995.71 167.62,996.19 168.02,996.64 168.46,997.05 168.91,997.44 169.38,997.81 169.87,998.16 170.39,998.47 170.93,998.72 171.5,998.91 172.08,999.05 172.67,999.14 173.27,999.23 173.86,999.33 174.45,999.43 175.05,999.49 175.65,999.52 175.9,999.53" marker-start="url(#m13)" marker-mid="url(#m13)" marker-end="url(#m13)"/>
<polyline class="d" points="51.5,842.52 65.72,843.35 74.08,844.82 79.72,846.07 84.32,847.33 88.09,848.58 91.43,849.83" marker-start="url(#m13)" marker-mid="url(#m13)" marker-end="url(#m13)"/>
<polyline points="51.5,852.34 53.22,852.42 55.6,852.53 58.42,852.66 61.45,852.81 64.45,852.98 67.18,853.18 69.68,853.4 72.14,853.64 74.56,853.91 76.98,854.2 79.39,854.52 81.81,854.85 84.28,855.21 86.77,855.58 89.26,855.98 91.73,856.4 94.13,856.86 96.45,857.36 98.69,857.89 100.86,858.45 102.98,859.05 105.05,859.68 107.05,860.37 108.99,861.12 110.88,861.94 112.71,862.8 114.48,863.72 116.2,864.69 117.85,865.71 119.45,866.77 120.96,867.84 122.39,868.93 123.76,870.06 125.1,871.28 126.44,872.61 127.81,874.09 129.22,875.75 130.64,877.57 132.06,879.51 133.46,881.52 134.84,883.56 136.17,885.59 137.47,887.6 138.73,889.65 139.96,891.73 141.17,893.83 142.34,895.97 143.49,898.13 144.61,900.32 145.7,902.54 146.76,904.79 147.79,907.07 148.79,909.38 149.76,911.72 150.71,914.07 151.62,916.44 152.51,918.84 153.36,921.28 154.19,923.78 154.99,926.36 155.75,929.02 156.48,931.78 157.17,934.59 157.85,937.43 158.51,940.27 159.17,943.08 159.83,945.87 160.49,948.66 161.13,951.44 161.76,954.23 162.36,957.02 162.94,959.81 163.48,962.62 164,965.46 164.5,968.3 164.98,971.11 165.43,973.87 165.86,976.53 166.26,979.12 166.64,981.64 166.99,984.11 167.32,986.52 167.64,988.87 167.95,991.17 168.25,993.36 168.53,995.43 168.79,997.44 169.05,999.45 169.33,1001.53 169.63,1003.71 169.95,1006.03 170.29,1008.44 170.64,1010.9 171,1013.39 171.36,1015.88 171.72,1018.35 172.09,1020.96 172.49,1023.77 172.89,1026.58 173.27,1029.19 173.58,1031.39 173.81,1032.98" fill="none" stroke="#ff2020" stroke-width="0.65"/>
<polyline class="d" points="141.5,845.5 141.5,845.5" marker-start="url(#m13)"/>
<text x="154" y="848.9" font-size="9.45" textLength="30.3">20Okt-4</text>
<text x="33.8" y="1056" text-anchor="end">-400</text>
<text x="33.8" y="1042.62" text-anchor="end">-300</text>
<text x="33.8" y="1029.25" text-anchor="end">-200</text>
<text x="33.8" y="1015.87" text-anchor="end">-100</text>
<text x="33.8" y="1002.49" text-anchor="end">0</text>
<text x="33.8" y="989.12" text-anchor="end">100</text>
<text x="33.8" y="975.74" text-anchor="end">200</text>
<text x="33.8" y="962.36" text-anchor="end">300</text>
<text x="33.8" y="948.99" text-anchor="end">400</text>
<text x="33.8" y="935.61" text-anchor="end">500</text>
<text x="33.8" y="922.24" text-anchor="end">600</text>
<text x="33.8" y="908.86" text-anchor="end">700</text>
<text x="33.8" y="895.48" text-anchor="end">800</text>
<text x="33.8" y="882.11" text-anchor="end">900</text>
<text x="33.8" y="868.73" text-anchor="end">1000</text>
<text x="33.8" y="855.35" text-anchor="end">1100</text>
<text x="33.8" y="841.98" text-anchor="end">1200</text>
<text x="33.8" y="828.6" text-anchor="end">1300</text>
<path d="M40.5 826.3H191.4V1053.7H40.5ZM40.5 826.3v2.4M40.5 1053.7v2.4M44.41 826.3v2.4M44.41 1053.7v2.4M47.44 826.3v2.4M47.44 1053.7v2.4M49.92 826.3v2.4M49.92 1053.7v2.4M52.01 826.3v2.4M52.01 1053.7v2.4M53.83 826.3v2.4M53.83 1053.7v2.4M55.43 826.3v2.4M55.43 1053.7v2.4M56.86 826.3v4.3M56.86 1053.7v4.3M66.27 826.3v2.4M66.27 1053.7v2.4M71.78 826.3v2.4M71.78 1053.7v2.4M75.69 826.3v2.4M75.69 1053.7v2.4M78.72 826.3v2.4M78.72 1053.7v2.4M81.2 826.3v2.4M81.2 1053.7v2.4M83.29 826.3v2.4M83.29 1053.7v2.4M85.11 826.3v2.4M85.11 1053.7v2.4M86.71 826.3v2.4M86.71 1053.7v2.4M88.14 826.3v4.3M88.14 1053.7v4.3M97.55 826.3v2.4M97.55 1053.7v2.4M103.06 826.3v2.4M103.06 1053.7v2.4M106.97 826.3v2.4M106.97 1053.7v2.4M110 826.3v2.4M110 1053.7v2.4M112.48 826.3v2.4M112.48 1053.7v2.4M114.57 826.3v2.4M114.57 1053.7v2.4M116.39 826.3v2.4M116.39 1053.7v2.4M117.99 826.3v2.4M117.99 1053.7v2.4M119.42 826.3v4.3M119.42 1053.7v4.3M128.84 826.3v2.4M128.84 1053.7v2.4M134.35 826.3v2.4M134.35 1053.7v2.4M138.25 826.3v2.4M138.25 1053.7v2.4M141.28 826.3v2.4M141.28 1053.7v2.4M143.76 826.3v2.4M143.76 1053.7v2.4M145.86 826.3v2.4M145.86 1053.7v2.4M147.67 826.3v2.4M147.67 1053.7v2.4M149.27 826.3v2.4M149.27 1053.7v2.4M150.7 826.3v4.3M150.7 1053.7v4.3M160.12 826.3v2.4M160.12 1053.7v2.4M165.63 826.3v2.4M165.63 1053.7v2.4M169.54 826.3v2.4M169.54 1053.7v2.4M172.57 826.3v2.4M172.57 1053.7v2.4M175.04 826.3v2.4M175.04 1053.7v2.4M177.14 826.3v2.4M177.14 1053.7v2.4M178.95 826.3v2.4M178.95 1053.7v2.4M180.55 826.3v2.4M180.55 1053.7v2.4M181.98 826.3v4.3M181.98 1053.7v4.3M191.4 826.3v2.4M191.4 1053.7v2.4M40.5 1053.7h-4.3M191.4 1053.7h-4.3M40.5 1047.01h-2.4M191.4 1047.01h-2.4M40.5 1040.32h-4.3M191.4 1040.32h-4.3M40.5 1033.64h-2.4M191.4 1033.64h-2.4M40.5 1026.95h-4.3M191.4 1026.95h-4.3M40.5 1020.26h-2.4M191.4 1020.26h-2.4M40.5 1013.57h-4.3M191.4 1013.57h-4.3M40.5 1006.88h-2.4M191.4 1006.88h-2.4M40.5 1000.19h-4.3M191.4 1000.19h-4.3M40.5 993.51h-2.4M191.4 993.51h-2.4M40.5 986.82h-4.3M191.4 986.82h-4.3M40.5 980.13h-2.4M191.4 980.13h-2.4M40.5 973.44h-4.3M191.4 973.44h-4.3M40.5 966.75h-2.4M191.4 966.75h-2.4M40.5 960.06h-4.3M191.4 960.06h-4.3M40.5 953.38h-2.4M191.4 953.38h-2.4M40.5 946.69h-4.3M191.4 946.69h-4.3M40.5 940h-2.4M191.4 940h-2.4M40.5 933.31h-4.3M191.4 933.31h-4.3M40.5 926.62h-2.4M191.4 926.62h-2.4M40.5 919.94h-4.3M191.4 919.94h-4.3M40.5 913.25h-2.4M191.4 913.25h-2.4M40.5 906.56h-4.3M191.4 906.56h-4.3M40.5 899.87h-2.4M191.4 899.87h-2.4M40.5 893.18h-4.3M191.4 893.18h-4.3M40.5 886.49h-2.4M191.4 886.49h-2.4M40.5 879.81h-4.3M191.4 879.81h-4.3M40.5 873.12h-2.4M191.4 873.12h-2.4M40.5 866.43h-4.3M191.4 866.43h-4.3M40.5 859.74h-2.4M191.4 859.74h-2.4M40.5 853.05h-4.3M191.4 853.05h-4.3M40.5 846.36h-2.4M191.4 846.36h-2.4M40.5 839.68h-4.3M191.4 839.68h-4.3M40.5 832.99h-2.4M191.4 832.99h-2.4M40.5 826.3h-4.3M191.4 826.3h-4.3" fill="none" stroke="#1a1a1a" stroke-width="1"/>
<text x="56.86" y="1066.7" text-anchor="middle">1E-4</text>
<text x="88.14" y="1066.7" text-anchor="middle">1E-3</text>
<text x="119.42" y="1066.7" text-anchor="middle">0.01</text>
<text x="150.7" y="1066.7" text-anchor="middle">0.1</text>
<text x="181.98" y="1066.7" text-anchor="middle">1</text>
<text x="115.95" y="1080.7" font-size="8.8" font-style="italic" text-anchor="middle">m<tspan font-size="5.4" dy="2.6" style="stroke-width:0.06px">t</tspan></text>
<text transform="translate(13 940) rotate(-90)" font-size="8.7" text-anchor="middle"><tspan font-style="italic" font-size="9.8">M</tspan><tspan font-size="5.6" dy="2.8" style="stroke-width:0.06px">cum</tspan><tspan dy="-2.8"> (</tspan><tspan font-style="italic">m</tspan><tspan font-size="5.6" dy="2.8" font-style="italic" style="stroke-width:0.06px">t</tspan><tspan dy="-2.8">)</tspan></text>
</g>
</svg></body></html>
